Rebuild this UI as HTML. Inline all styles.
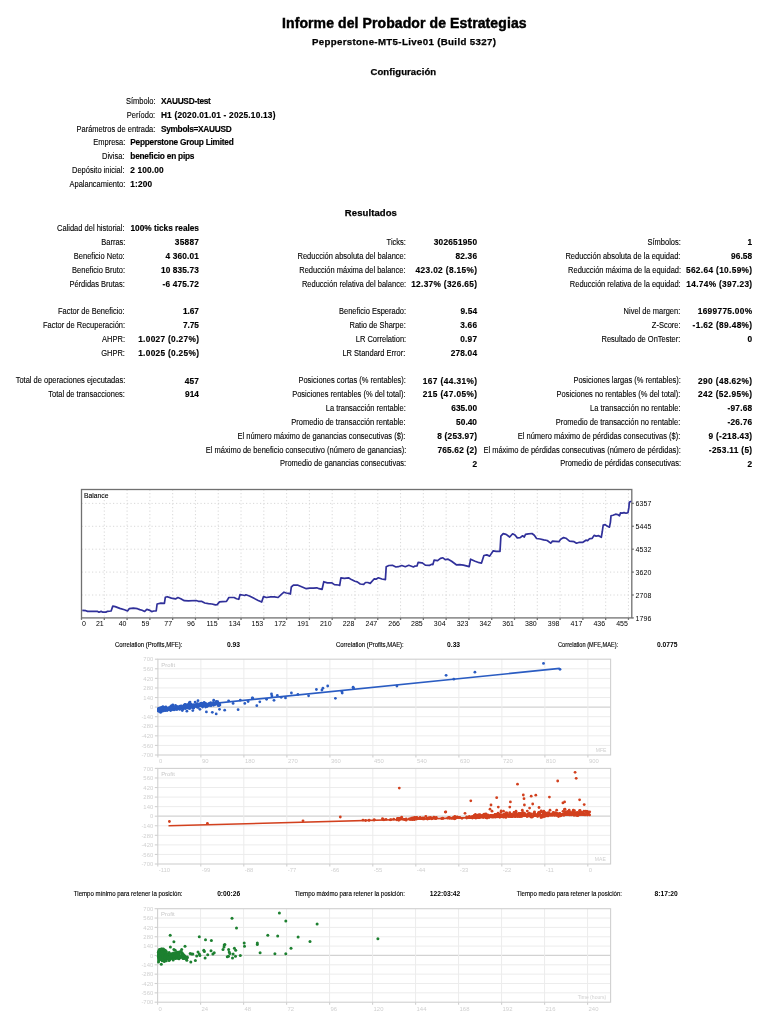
<!DOCTYPE html>
<html><head><meta charset="utf-8"><style>
html,body{margin:0;padding:0;background:#fff;width:768px;height:1024px;overflow:hidden;}
body{position:relative;will-change:transform;font-family:"Liberation Sans", sans-serif;color:#000;}
#r{position:absolute;left:0;top:0;width:768px;height:1024px;background:#fff;}
.t{position:absolute;white-space:nowrap;line-height:1;}
.l{-webkit-text-stroke:0.12px #000;}
.h1{-webkit-text-stroke:0.45px #000;}
.h2{-webkit-text-stroke:0.25px #000;}
.v{-webkit-text-stroke:0.15px #000;}
svg{position:absolute;left:0;top:0;}
</style></head><body><div id="r">
<svg width="768" height="1024" viewBox="0 0 768 1024"><style>.gd{stroke:#d4d4d4;stroke-width:0.9;stroke-dasharray:1.2 2.3;fill:none}.fr{stroke:#707070;stroke-width:1.3}</style><line x1="104.29" y1="489.5" x2="104.29" y2="617.9" class="gd"/><line x1="127.08" y1="489.5" x2="127.08" y2="617.9" class="gd"/><line x1="149.87" y1="489.5" x2="149.87" y2="617.9" class="gd"/><line x1="172.66" y1="489.5" x2="172.66" y2="617.9" class="gd"/><line x1="195.45" y1="489.5" x2="195.45" y2="617.9" class="gd"/><line x1="218.24" y1="489.5" x2="218.24" y2="617.9" class="gd"/><line x1="241.03" y1="489.5" x2="241.03" y2="617.9" class="gd"/><line x1="263.82" y1="489.5" x2="263.82" y2="617.9" class="gd"/><line x1="286.61" y1="489.5" x2="286.61" y2="617.9" class="gd"/><line x1="309.40" y1="489.5" x2="309.40" y2="617.9" class="gd"/><line x1="332.19" y1="489.5" x2="332.19" y2="617.9" class="gd"/><line x1="354.98" y1="489.5" x2="354.98" y2="617.9" class="gd"/><line x1="377.77" y1="489.5" x2="377.77" y2="617.9" class="gd"/><line x1="400.56" y1="489.5" x2="400.56" y2="617.9" class="gd"/><line x1="423.35" y1="489.5" x2="423.35" y2="617.9" class="gd"/><line x1="446.14" y1="489.5" x2="446.14" y2="617.9" class="gd"/><line x1="468.93" y1="489.5" x2="468.93" y2="617.9" class="gd"/><line x1="491.72" y1="489.5" x2="491.72" y2="617.9" class="gd"/><line x1="514.51" y1="489.5" x2="514.51" y2="617.9" class="gd"/><line x1="537.30" y1="489.5" x2="537.30" y2="617.9" class="gd"/><line x1="560.09" y1="489.5" x2="560.09" y2="617.9" class="gd"/><line x1="582.88" y1="489.5" x2="582.88" y2="617.9" class="gd"/><line x1="605.67" y1="489.5" x2="605.67" y2="617.9" class="gd"/><line x1="628.46" y1="489.5" x2="628.46" y2="617.9" class="gd"/><line x1="81.5" y1="595.00" x2="631.8" y2="595.00" class="gd"/><line x1="81.5" y1="572.10" x2="631.8" y2="572.10" class="gd"/><line x1="81.5" y1="549.20" x2="631.8" y2="549.20" class="gd"/><line x1="81.5" y1="526.30" x2="631.8" y2="526.30" class="gd"/><line x1="81.5" y1="503.40" x2="631.8" y2="503.40" class="gd"/><line x1="81.50" y1="617.9" x2="81.50" y2="619.9" class="fr"/><line x1="104.29" y1="617.9" x2="104.29" y2="619.9" class="fr"/><line x1="127.08" y1="617.9" x2="127.08" y2="619.9" class="fr"/><line x1="149.87" y1="617.9" x2="149.87" y2="619.9" class="fr"/><line x1="172.66" y1="617.9" x2="172.66" y2="619.9" class="fr"/><line x1="195.45" y1="617.9" x2="195.45" y2="619.9" class="fr"/><line x1="218.24" y1="617.9" x2="218.24" y2="619.9" class="fr"/><line x1="241.03" y1="617.9" x2="241.03" y2="619.9" class="fr"/><line x1="263.82" y1="617.9" x2="263.82" y2="619.9" class="fr"/><line x1="286.61" y1="617.9" x2="286.61" y2="619.9" class="fr"/><line x1="309.40" y1="617.9" x2="309.40" y2="619.9" class="fr"/><line x1="332.19" y1="617.9" x2="332.19" y2="619.9" class="fr"/><line x1="354.98" y1="617.9" x2="354.98" y2="619.9" class="fr"/><line x1="377.77" y1="617.9" x2="377.77" y2="619.9" class="fr"/><line x1="400.56" y1="617.9" x2="400.56" y2="619.9" class="fr"/><line x1="423.35" y1="617.9" x2="423.35" y2="619.9" class="fr"/><line x1="446.14" y1="617.9" x2="446.14" y2="619.9" class="fr"/><line x1="468.93" y1="617.9" x2="468.93" y2="619.9" class="fr"/><line x1="491.72" y1="617.9" x2="491.72" y2="619.9" class="fr"/><line x1="514.51" y1="617.9" x2="514.51" y2="619.9" class="fr"/><line x1="537.30" y1="617.9" x2="537.30" y2="619.9" class="fr"/><line x1="560.09" y1="617.9" x2="560.09" y2="619.9" class="fr"/><line x1="582.88" y1="617.9" x2="582.88" y2="619.9" class="fr"/><line x1="605.67" y1="617.9" x2="605.67" y2="619.9" class="fr"/><line x1="628.46" y1="617.9" x2="628.46" y2="619.9" class="fr"/><line x1="631.8" y1="617.90" x2="633.8" y2="617.90" class="fr"/><line x1="631.8" y1="595.00" x2="633.8" y2="595.00" class="fr"/><line x1="631.8" y1="572.10" x2="633.8" y2="572.10" class="fr"/><line x1="631.8" y1="549.20" x2="633.8" y2="549.20" class="fr"/><line x1="631.8" y1="526.30" x2="633.8" y2="526.30" class="fr"/><line x1="631.8" y1="503.40" x2="633.8" y2="503.40" class="fr"/><rect x="81.5" y="489.5" width="550.3" height="128.39999999999998" class="fr" fill="none"/><polyline points="82.3,610.4 85.9,610.7 87.6,611.4 97.6,611.4 99.0,612.2 101.1,611.4 102.9,612.2 105.8,612.2 107.5,611.3 111.1,611.0 112.8,606.1 115.2,606.6 119.8,608.4 124.5,609.8 127.5,611.0 129.2,608.7 133.3,608.1 137.4,608.7 139.8,609.6 142.1,610.2 144.7,611.4 146.8,609.3 149.1,610.1 151.7,611.6 153.8,611.0 156.2,611.0 157.1,604.0 160.9,603.2 164.4,603.4 165.3,597.3 167.3,596.7 171.4,598.1 175.5,598.9 177.9,597.5 180.8,598.7 184.3,600.7 188.4,600.8 196.1,600.5 198.4,601.3 201.9,601.4 204.8,603.0 208.4,603.6 211.9,604.0 215.4,604.9 217.2,604.6 219.5,601.9 222.4,601.6 226.5,601.4 228.9,597.5 234.1,597.5 236.5,598.7 238.8,599.3 240.0,594.6 242.3,595.0 244.7,595.5 245.9,594.8 249.4,596.0 253.5,598.1 258.2,600.4 261.7,602.0 263.5,596.6 266.4,597.5 270.5,596.9 274.6,596.9 278.1,597.5 281.1,594.6 284.0,592.2 286.3,593.0 288.7,593.4 290.4,594.0 291.3,587.0 293.4,585.2 298.0,585.2 301.6,586.7 306.3,588.7 309.8,588.1 313.3,588.1 316.8,587.8 319.1,588.7 322.1,589.3 323.8,581.7 327.3,582.9 332.0,582.9 334.4,584.6 338.5,585.0 339.7,585.4 340.9,577.8 344.4,578.4 348.5,577.8 351.4,579.6 354.9,581.3 357.3,581.9 360.2,584.0 363.7,584.3 365.5,582.5 367.8,582.5 370.2,583.4 374.3,578.8 376.0,579.2 378.4,577.8 381.9,579.0 385.4,579.6 386.2,566.7 388.9,565.5 392.4,565.3 395.9,567.0 398.3,566.7 401.8,565.5 405.3,566.7 408.8,565.3 413.5,567.0 414.7,566.1 417.0,565.9 418.2,562.3 421.7,562.8 422.3,562.9 425.3,565.2 429.4,565.4 431.7,564.3 432.9,564.6 434.1,560.2 437.6,560.7 440.5,558.4 442.9,557.8 445.2,559.6 448.1,559.2 451.6,561.3 456.3,564.8 459.8,564.6 463.4,565.1 469.2,566.6 470.6,559.2 475.1,561.3 479.2,562.7 481.5,563.1 483.9,555.5 486.8,554.9 489.7,556.1 493.2,550.8 496.2,551.4 500.0,551.4 500.9,536.1 503.2,533.6 506.1,534.4 507.3,535.2 509.7,537.0 512.6,533.8 515.0,535.0 517.3,537.9 520.2,537.6 522.6,535.8 524.3,537.0 525.5,534.3 528.4,533.8 532.0,533.5 534.3,535.2 536.6,538.5 540.2,539.0 543.7,539.9 547.2,540.5 550.7,543.2 552.5,541.1 555.4,541.3 558.9,541.7 560.7,539.3 563.6,537.6 565.9,538.2 569.5,541.1 574.1,541.7 576.5,543.2 579.4,542.3 582.9,542.3 585.9,540.2 587.6,540.6 588.9,539.3 590.2,538.6 592.2,538.3 594.1,535.4 596.1,536.1 598.7,535.7 601.3,537.3 602.3,531.5 603.2,525.0 605.2,524.6 607.1,526.1 609.4,527.2 610.4,522.3 611.0,515.8 613.0,515.2 615.6,514.2 617.6,514.5 619.5,515.8 620.5,512.9 622.1,513.1 624.1,512.6 626.0,513.2 628.0,512.6 628.9,507.4 629.3,502.2 630.6,501.5 631.2,501.8" fill="none" stroke="#30309a" stroke-width="1.7" stroke-linejoin="round"/></svg><svg width="768" height="1024" viewBox="0 0 768 1024"><style>.sg{stroke:#ececec;stroke-width:1}.sz{stroke:#d2d2d2;stroke-width:1.2}.sf{stroke:#d0d0d0;stroke-width:1.1}</style><line x1="157.9" y1="668.78" x2="610.6" y2="668.78" class="sg"/><line x1="157.9" y1="678.36" x2="610.6" y2="678.36" class="sg"/><line x1="157.9" y1="687.94" x2="610.6" y2="687.94" class="sg"/><line x1="157.9" y1="697.52" x2="610.6" y2="697.52" class="sg"/><line x1="157.9" y1="707.10" x2="610.6" y2="707.10" class="sz"/><line x1="157.9" y1="716.68" x2="610.6" y2="716.68" class="sg"/><line x1="157.9" y1="726.26" x2="610.6" y2="726.26" class="sg"/><line x1="157.9" y1="735.84" x2="610.6" y2="735.84" class="sg"/><line x1="157.9" y1="745.42" x2="610.6" y2="745.42" class="sg"/><line x1="200.90" y1="659.2" x2="200.90" y2="755.0" class="sg"/><line x1="243.90" y1="659.2" x2="243.90" y2="755.0" class="sg"/><line x1="286.90" y1="659.2" x2="286.90" y2="755.0" class="sg"/><line x1="329.90" y1="659.2" x2="329.90" y2="755.0" class="sg"/><line x1="372.90" y1="659.2" x2="372.90" y2="755.0" class="sg"/><line x1="415.90" y1="659.2" x2="415.90" y2="755.0" class="sg"/><line x1="458.90" y1="659.2" x2="458.90" y2="755.0" class="sg"/><line x1="501.90" y1="659.2" x2="501.90" y2="755.0" class="sg"/><line x1="544.90" y1="659.2" x2="544.90" y2="755.0" class="sg"/><line x1="587.90" y1="659.2" x2="587.90" y2="755.0" class="sg"/><line x1="154.9" y1="659.20" x2="157.9" y2="659.20" class="sf"/><line x1="154.9" y1="668.78" x2="157.9" y2="668.78" class="sf"/><line x1="154.9" y1="678.36" x2="157.9" y2="678.36" class="sf"/><line x1="154.9" y1="687.94" x2="157.9" y2="687.94" class="sf"/><line x1="154.9" y1="697.52" x2="157.9" y2="697.52" class="sf"/><line x1="154.9" y1="707.10" x2="157.9" y2="707.10" class="sf"/><line x1="154.9" y1="716.68" x2="157.9" y2="716.68" class="sf"/><line x1="154.9" y1="726.26" x2="157.9" y2="726.26" class="sf"/><line x1="154.9" y1="735.84" x2="157.9" y2="735.84" class="sf"/><line x1="154.9" y1="745.42" x2="157.9" y2="745.42" class="sf"/><line x1="154.9" y1="755.00" x2="157.9" y2="755.00" class="sf"/><line x1="157.90" y1="755.0" x2="157.90" y2="757.5" class="sf"/><line x1="200.90" y1="755.0" x2="200.90" y2="757.5" class="sf"/><line x1="243.90" y1="755.0" x2="243.90" y2="757.5" class="sf"/><line x1="286.90" y1="755.0" x2="286.90" y2="757.5" class="sf"/><line x1="329.90" y1="755.0" x2="329.90" y2="757.5" class="sf"/><line x1="372.90" y1="755.0" x2="372.90" y2="757.5" class="sf"/><line x1="415.90" y1="755.0" x2="415.90" y2="757.5" class="sf"/><line x1="458.90" y1="755.0" x2="458.90" y2="757.5" class="sf"/><line x1="501.90" y1="755.0" x2="501.90" y2="757.5" class="sf"/><line x1="544.90" y1="755.0" x2="544.90" y2="757.5" class="sf"/><line x1="587.90" y1="755.0" x2="587.90" y2="757.5" class="sf"/><rect x="157.9" y="659.2" width="452.70" height="95.80" class="sf" fill="none"/><line x1="157.8" y1="777.96" x2="610.6" y2="777.96" class="sg"/><line x1="157.8" y1="787.52" x2="610.6" y2="787.52" class="sg"/><line x1="157.8" y1="797.08" x2="610.6" y2="797.08" class="sg"/><line x1="157.8" y1="806.64" x2="610.6" y2="806.64" class="sg"/><line x1="157.8" y1="816.20" x2="610.6" y2="816.20" class="sz"/><line x1="157.8" y1="825.76" x2="610.6" y2="825.76" class="sg"/><line x1="157.8" y1="835.32" x2="610.6" y2="835.32" class="sg"/><line x1="157.8" y1="844.88" x2="610.6" y2="844.88" class="sg"/><line x1="157.8" y1="854.44" x2="610.6" y2="854.44" class="sg"/><line x1="200.80" y1="768.4" x2="200.80" y2="864.0" class="sg"/><line x1="243.80" y1="768.4" x2="243.80" y2="864.0" class="sg"/><line x1="286.80" y1="768.4" x2="286.80" y2="864.0" class="sg"/><line x1="329.80" y1="768.4" x2="329.80" y2="864.0" class="sg"/><line x1="372.80" y1="768.4" x2="372.80" y2="864.0" class="sg"/><line x1="415.80" y1="768.4" x2="415.80" y2="864.0" class="sg"/><line x1="458.80" y1="768.4" x2="458.80" y2="864.0" class="sg"/><line x1="501.80" y1="768.4" x2="501.80" y2="864.0" class="sg"/><line x1="544.80" y1="768.4" x2="544.80" y2="864.0" class="sg"/><line x1="587.80" y1="768.4" x2="587.80" y2="864.0" class="sg"/><line x1="154.8" y1="768.40" x2="157.8" y2="768.40" class="sf"/><line x1="154.8" y1="777.96" x2="157.8" y2="777.96" class="sf"/><line x1="154.8" y1="787.52" x2="157.8" y2="787.52" class="sf"/><line x1="154.8" y1="797.08" x2="157.8" y2="797.08" class="sf"/><line x1="154.8" y1="806.64" x2="157.8" y2="806.64" class="sf"/><line x1="154.8" y1="816.20" x2="157.8" y2="816.20" class="sf"/><line x1="154.8" y1="825.76" x2="157.8" y2="825.76" class="sf"/><line x1="154.8" y1="835.32" x2="157.8" y2="835.32" class="sf"/><line x1="154.8" y1="844.88" x2="157.8" y2="844.88" class="sf"/><line x1="154.8" y1="854.44" x2="157.8" y2="854.44" class="sf"/><line x1="154.8" y1="864.00" x2="157.8" y2="864.00" class="sf"/><line x1="157.80" y1="864.0" x2="157.80" y2="866.5" class="sf"/><line x1="200.80" y1="864.0" x2="200.80" y2="866.5" class="sf"/><line x1="243.80" y1="864.0" x2="243.80" y2="866.5" class="sf"/><line x1="286.80" y1="864.0" x2="286.80" y2="866.5" class="sf"/><line x1="329.80" y1="864.0" x2="329.80" y2="866.5" class="sf"/><line x1="372.80" y1="864.0" x2="372.80" y2="866.5" class="sf"/><line x1="415.80" y1="864.0" x2="415.80" y2="866.5" class="sf"/><line x1="458.80" y1="864.0" x2="458.80" y2="866.5" class="sf"/><line x1="501.80" y1="864.0" x2="501.80" y2="866.5" class="sf"/><line x1="544.80" y1="864.0" x2="544.80" y2="866.5" class="sf"/><line x1="587.80" y1="864.0" x2="587.80" y2="866.5" class="sf"/><rect x="157.8" y="768.4" width="452.80" height="95.60" class="sf" fill="none"/><line x1="157.6" y1="918.05" x2="610.6" y2="918.05" class="sg"/><line x1="157.6" y1="927.40" x2="610.6" y2="927.40" class="sg"/><line x1="157.6" y1="936.75" x2="610.6" y2="936.75" class="sg"/><line x1="157.6" y1="946.10" x2="610.6" y2="946.10" class="sg"/><line x1="157.6" y1="955.45" x2="610.6" y2="955.45" class="sz"/><line x1="157.6" y1="964.80" x2="610.6" y2="964.80" class="sg"/><line x1="157.6" y1="974.15" x2="610.6" y2="974.15" class="sg"/><line x1="157.6" y1="983.50" x2="610.6" y2="983.50" class="sg"/><line x1="157.6" y1="992.85" x2="610.6" y2="992.85" class="sg"/><line x1="200.60" y1="908.7" x2="200.60" y2="1002.2" class="sg"/><line x1="243.60" y1="908.7" x2="243.60" y2="1002.2" class="sg"/><line x1="286.60" y1="908.7" x2="286.60" y2="1002.2" class="sg"/><line x1="329.60" y1="908.7" x2="329.60" y2="1002.2" class="sg"/><line x1="372.60" y1="908.7" x2="372.60" y2="1002.2" class="sg"/><line x1="415.60" y1="908.7" x2="415.60" y2="1002.2" class="sg"/><line x1="458.60" y1="908.7" x2="458.60" y2="1002.2" class="sg"/><line x1="501.60" y1="908.7" x2="501.60" y2="1002.2" class="sg"/><line x1="544.60" y1="908.7" x2="544.60" y2="1002.2" class="sg"/><line x1="587.60" y1="908.7" x2="587.60" y2="1002.2" class="sg"/><line x1="154.6" y1="908.70" x2="157.6" y2="908.70" class="sf"/><line x1="154.6" y1="918.05" x2="157.6" y2="918.05" class="sf"/><line x1="154.6" y1="927.40" x2="157.6" y2="927.40" class="sf"/><line x1="154.6" y1="936.75" x2="157.6" y2="936.75" class="sf"/><line x1="154.6" y1="946.10" x2="157.6" y2="946.10" class="sf"/><line x1="154.6" y1="955.45" x2="157.6" y2="955.45" class="sf"/><line x1="154.6" y1="964.80" x2="157.6" y2="964.80" class="sf"/><line x1="154.6" y1="974.15" x2="157.6" y2="974.15" class="sf"/><line x1="154.6" y1="983.50" x2="157.6" y2="983.50" class="sf"/><line x1="154.6" y1="992.85" x2="157.6" y2="992.85" class="sf"/><line x1="154.6" y1="1002.20" x2="157.6" y2="1002.20" class="sf"/><line x1="157.60" y1="1002.2" x2="157.60" y2="1004.7" class="sf"/><line x1="200.60" y1="1002.2" x2="200.60" y2="1004.7" class="sf"/><line x1="243.60" y1="1002.2" x2="243.60" y2="1004.7" class="sf"/><line x1="286.60" y1="1002.2" x2="286.60" y2="1004.7" class="sf"/><line x1="329.60" y1="1002.2" x2="329.60" y2="1004.7" class="sf"/><line x1="372.60" y1="1002.2" x2="372.60" y2="1004.7" class="sf"/><line x1="415.60" y1="1002.2" x2="415.60" y2="1004.7" class="sf"/><line x1="458.60" y1="1002.2" x2="458.60" y2="1004.7" class="sf"/><line x1="501.60" y1="1002.2" x2="501.60" y2="1004.7" class="sf"/><line x1="544.60" y1="1002.2" x2="544.60" y2="1004.7" class="sf"/><line x1="587.60" y1="1002.2" x2="587.60" y2="1004.7" class="sf"/><rect x="157.6" y="908.7" width="453.00" height="93.50" class="sf" fill="none"/><circle cx="168.8" cy="709.5" r="1.4" fill="#2a5cc2"/><circle cx="159.5" cy="710.8" r="1.4" fill="#2a5cc2"/><circle cx="181.5" cy="707.1" r="1.4" fill="#2a5cc2"/><circle cx="179.5" cy="707.8" r="1.4" fill="#2a5cc2"/><circle cx="158.9" cy="709.2" r="1.4" fill="#2a5cc2"/><circle cx="159.9" cy="709.6" r="1.4" fill="#2a5cc2"/><circle cx="174.3" cy="708.3" r="1.4" fill="#2a5cc2"/><circle cx="164.2" cy="708.5" r="1.4" fill="#2a5cc2"/><circle cx="188.0" cy="708.0" r="1.4" fill="#2a5cc2"/><circle cx="172.7" cy="707.7" r="1.4" fill="#2a5cc2"/><circle cx="218.3" cy="705.7" r="1.4" fill="#2a5cc2"/><circle cx="167.1" cy="709.4" r="1.4" fill="#2a5cc2"/><circle cx="161.4" cy="710.0" r="1.4" fill="#2a5cc2"/><circle cx="203.4" cy="705.7" r="1.4" fill="#2a5cc2"/><circle cx="162.6" cy="707.8" r="1.4" fill="#2a5cc2"/><circle cx="171.4" cy="707.5" r="1.4" fill="#2a5cc2"/><circle cx="182.3" cy="707.6" r="1.4" fill="#2a5cc2"/><circle cx="163.5" cy="709.2" r="1.4" fill="#2a5cc2"/><circle cx="192.1" cy="705.4" r="1.4" fill="#2a5cc2"/><circle cx="184.9" cy="707.4" r="1.4" fill="#2a5cc2"/><circle cx="176.1" cy="707.2" r="1.4" fill="#2a5cc2"/><circle cx="193.6" cy="708.0" r="1.4" fill="#2a5cc2"/><circle cx="165.1" cy="707.7" r="1.4" fill="#2a5cc2"/><circle cx="208.7" cy="704.0" r="1.4" fill="#2a5cc2"/><circle cx="196.0" cy="705.1" r="1.4" fill="#2a5cc2"/><circle cx="160.6" cy="712.4" r="1.4" fill="#2a5cc2"/><circle cx="174.0" cy="708.1" r="1.4" fill="#2a5cc2"/><circle cx="178.3" cy="707.0" r="1.4" fill="#2a5cc2"/><circle cx="158.9" cy="708.6" r="1.4" fill="#2a5cc2"/><circle cx="184.0" cy="705.4" r="1.4" fill="#2a5cc2"/><circle cx="208.7" cy="703.9" r="1.4" fill="#2a5cc2"/><circle cx="185.6" cy="708.5" r="1.4" fill="#2a5cc2"/><circle cx="184.5" cy="705.0" r="1.4" fill="#2a5cc2"/><circle cx="215.2" cy="704.5" r="1.4" fill="#2a5cc2"/><circle cx="177.4" cy="707.5" r="1.4" fill="#2a5cc2"/><circle cx="193.8" cy="705.7" r="1.4" fill="#2a5cc2"/><circle cx="189.5" cy="708.5" r="1.4" fill="#2a5cc2"/><circle cx="166.9" cy="708.7" r="1.4" fill="#2a5cc2"/><circle cx="172.1" cy="708.1" r="1.4" fill="#2a5cc2"/><circle cx="176.6" cy="707.6" r="1.4" fill="#2a5cc2"/><circle cx="162.2" cy="709.5" r="1.4" fill="#2a5cc2"/><circle cx="199.3" cy="705.8" r="1.4" fill="#2a5cc2"/><circle cx="161.0" cy="709.4" r="1.4" fill="#2a5cc2"/><circle cx="208.3" cy="705.7" r="1.4" fill="#2a5cc2"/><circle cx="159.7" cy="708.2" r="1.4" fill="#2a5cc2"/><circle cx="209.4" cy="704.9" r="1.4" fill="#2a5cc2"/><circle cx="203.7" cy="705.7" r="1.4" fill="#2a5cc2"/><circle cx="173.8" cy="707.4" r="1.4" fill="#2a5cc2"/><circle cx="170.6" cy="710.5" r="1.4" fill="#2a5cc2"/><circle cx="161.6" cy="707.4" r="1.4" fill="#2a5cc2"/><circle cx="162.5" cy="709.3" r="1.4" fill="#2a5cc2"/><circle cx="178.1" cy="708.4" r="1.4" fill="#2a5cc2"/><circle cx="185.2" cy="706.9" r="1.4" fill="#2a5cc2"/><circle cx="174.0" cy="708.1" r="1.4" fill="#2a5cc2"/><circle cx="171.2" cy="705.8" r="1.4" fill="#2a5cc2"/><circle cx="192.9" cy="705.1" r="1.4" fill="#2a5cc2"/><circle cx="180.1" cy="706.2" r="1.4" fill="#2a5cc2"/><circle cx="159.2" cy="708.4" r="1.4" fill="#2a5cc2"/><circle cx="210.9" cy="704.8" r="1.4" fill="#2a5cc2"/><circle cx="201.8" cy="703.1" r="1.4" fill="#2a5cc2"/><circle cx="172.5" cy="707.8" r="1.4" fill="#2a5cc2"/><circle cx="188.5" cy="706.9" r="1.4" fill="#2a5cc2"/><circle cx="159.3" cy="710.2" r="1.4" fill="#2a5cc2"/><circle cx="162.0" cy="709.6" r="1.4" fill="#2a5cc2"/><circle cx="169.6" cy="708.5" r="1.4" fill="#2a5cc2"/><circle cx="161.6" cy="709.3" r="1.4" fill="#2a5cc2"/><circle cx="160.2" cy="709.3" r="1.4" fill="#2a5cc2"/><circle cx="208.6" cy="704.8" r="1.4" fill="#2a5cc2"/><circle cx="187.0" cy="707.2" r="1.4" fill="#2a5cc2"/><circle cx="170.0" cy="709.1" r="1.4" fill="#2a5cc2"/><circle cx="170.9" cy="709.9" r="1.4" fill="#2a5cc2"/><circle cx="219.9" cy="704.9" r="1.4" fill="#2a5cc2"/><circle cx="176.9" cy="707.3" r="1.4" fill="#2a5cc2"/><circle cx="160.2" cy="709.5" r="1.4" fill="#2a5cc2"/><circle cx="169.8" cy="708.3" r="1.4" fill="#2a5cc2"/><circle cx="162.0" cy="711.3" r="1.4" fill="#2a5cc2"/><circle cx="158.7" cy="710.9" r="1.4" fill="#2a5cc2"/><circle cx="161.5" cy="708.9" r="1.4" fill="#2a5cc2"/><circle cx="182.0" cy="708.6" r="1.4" fill="#2a5cc2"/><circle cx="218.5" cy="703.8" r="1.4" fill="#2a5cc2"/><circle cx="207.6" cy="704.4" r="1.4" fill="#2a5cc2"/><circle cx="171.1" cy="707.5" r="1.4" fill="#2a5cc2"/><circle cx="162.1" cy="709.4" r="1.4" fill="#2a5cc2"/><circle cx="200.2" cy="704.1" r="1.4" fill="#2a5cc2"/><circle cx="169.1" cy="708.9" r="1.4" fill="#2a5cc2"/><circle cx="219.1" cy="705.5" r="1.4" fill="#2a5cc2"/><circle cx="206.6" cy="705.5" r="1.4" fill="#2a5cc2"/><circle cx="196.9" cy="703.9" r="1.4" fill="#2a5cc2"/><circle cx="164.4" cy="708.0" r="1.4" fill="#2a5cc2"/><circle cx="158.8" cy="709.5" r="1.4" fill="#2a5cc2"/><circle cx="158.8" cy="709.4" r="1.4" fill="#2a5cc2"/><circle cx="193.0" cy="707.0" r="1.4" fill="#2a5cc2"/><circle cx="216.3" cy="701.4" r="1.4" fill="#2a5cc2"/><circle cx="219.4" cy="704.4" r="1.4" fill="#2a5cc2"/><circle cx="216.2" cy="703.3" r="1.4" fill="#2a5cc2"/><circle cx="164.4" cy="709.6" r="1.4" fill="#2a5cc2"/><circle cx="163.2" cy="709.6" r="1.4" fill="#2a5cc2"/><circle cx="211.0" cy="705.8" r="1.4" fill="#2a5cc2"/><circle cx="205.5" cy="703.3" r="1.4" fill="#2a5cc2"/><circle cx="202.0" cy="705.5" r="1.4" fill="#2a5cc2"/><circle cx="159.8" cy="708.2" r="1.4" fill="#2a5cc2"/><circle cx="200.5" cy="703.4" r="1.4" fill="#2a5cc2"/><circle cx="197.7" cy="705.0" r="1.4" fill="#2a5cc2"/><circle cx="201.0" cy="705.4" r="1.4" fill="#2a5cc2"/><circle cx="169.2" cy="709.4" r="1.4" fill="#2a5cc2"/><circle cx="172.7" cy="705.4" r="1.4" fill="#2a5cc2"/><circle cx="173.0" cy="709.8" r="1.4" fill="#2a5cc2"/><circle cx="162.2" cy="708.6" r="1.4" fill="#2a5cc2"/><circle cx="160.9" cy="710.8" r="1.4" fill="#2a5cc2"/><circle cx="202.6" cy="707.1" r="1.4" fill="#2a5cc2"/><circle cx="161.5" cy="710.7" r="1.4" fill="#2a5cc2"/><circle cx="190.3" cy="703.7" r="1.4" fill="#2a5cc2"/><circle cx="170.2" cy="707.9" r="1.4" fill="#2a5cc2"/><circle cx="158.7" cy="709.4" r="1.4" fill="#2a5cc2"/><circle cx="217.7" cy="702.9" r="1.4" fill="#2a5cc2"/><circle cx="214.1" cy="702.9" r="1.4" fill="#2a5cc2"/><circle cx="174.9" cy="709.4" r="1.4" fill="#2a5cc2"/><circle cx="163.7" cy="707.6" r="1.4" fill="#2a5cc2"/><circle cx="165.4" cy="708.7" r="1.4" fill="#2a5cc2"/><circle cx="185.0" cy="707.7" r="1.4" fill="#2a5cc2"/><circle cx="165.8" cy="708.4" r="1.4" fill="#2a5cc2"/><circle cx="211.9" cy="704.5" r="1.4" fill="#2a5cc2"/><circle cx="170.4" cy="707.0" r="1.4" fill="#2a5cc2"/><circle cx="211.4" cy="704.7" r="1.4" fill="#2a5cc2"/><circle cx="174.1" cy="709.2" r="1.4" fill="#2a5cc2"/><circle cx="181.2" cy="706.7" r="1.4" fill="#2a5cc2"/><circle cx="180.6" cy="708.6" r="1.4" fill="#2a5cc2"/><circle cx="162.7" cy="709.3" r="1.4" fill="#2a5cc2"/><circle cx="158.6" cy="709.8" r="1.4" fill="#2a5cc2"/><circle cx="177.3" cy="707.1" r="1.4" fill="#2a5cc2"/><circle cx="195.7" cy="705.0" r="1.4" fill="#2a5cc2"/><circle cx="180.3" cy="707.1" r="1.4" fill="#2a5cc2"/><circle cx="182.8" cy="707.3" r="1.4" fill="#2a5cc2"/><circle cx="183.1" cy="706.6" r="1.4" fill="#2a5cc2"/><circle cx="165.3" cy="708.6" r="1.4" fill="#2a5cc2"/><circle cx="179.6" cy="709.4" r="1.4" fill="#2a5cc2"/><circle cx="183.2" cy="707.3" r="1.4" fill="#2a5cc2"/><circle cx="175.5" cy="705.5" r="1.4" fill="#2a5cc2"/><circle cx="186.9" cy="705.4" r="1.4" fill="#2a5cc2"/><circle cx="193.1" cy="706.1" r="1.4" fill="#2a5cc2"/><circle cx="176.0" cy="706.6" r="1.4" fill="#2a5cc2"/><circle cx="214.9" cy="703.7" r="1.4" fill="#2a5cc2"/><circle cx="193.6" cy="708.0" r="1.4" fill="#2a5cc2"/><circle cx="165.8" cy="707.0" r="1.4" fill="#2a5cc2"/><circle cx="183.1" cy="709.1" r="1.4" fill="#2a5cc2"/><circle cx="161.2" cy="708.6" r="1.4" fill="#2a5cc2"/><circle cx="160.7" cy="709.0" r="1.4" fill="#2a5cc2"/><circle cx="164.9" cy="709.1" r="1.4" fill="#2a5cc2"/><circle cx="159.5" cy="708.6" r="1.4" fill="#2a5cc2"/><circle cx="210.7" cy="702.7" r="1.4" fill="#2a5cc2"/><circle cx="161.7" cy="708.9" r="1.4" fill="#2a5cc2"/><circle cx="161.4" cy="707.7" r="1.4" fill="#2a5cc2"/><circle cx="209.4" cy="705.3" r="1.4" fill="#2a5cc2"/><circle cx="216.0" cy="703.7" r="1.4" fill="#2a5cc2"/><circle cx="172.8" cy="704.8" r="1.4" fill="#2a5cc2"/><circle cx="204.8" cy="705.2" r="1.4" fill="#2a5cc2"/><circle cx="162.0" cy="708.1" r="1.4" fill="#2a5cc2"/><circle cx="169.6" cy="709.0" r="1.4" fill="#2a5cc2"/><circle cx="163.2" cy="708.4" r="1.4" fill="#2a5cc2"/><circle cx="158.7" cy="711.2" r="1.4" fill="#2a5cc2"/><circle cx="182.7" cy="707.0" r="1.4" fill="#2a5cc2"/><circle cx="169.2" cy="708.6" r="1.4" fill="#2a5cc2"/><circle cx="187.7" cy="706.3" r="1.4" fill="#2a5cc2"/><circle cx="219.1" cy="703.5" r="1.4" fill="#2a5cc2"/><circle cx="201.0" cy="705.9" r="1.4" fill="#2a5cc2"/><circle cx="166.0" cy="708.8" r="1.4" fill="#2a5cc2"/><circle cx="159.0" cy="709.7" r="1.4" fill="#2a5cc2"/><circle cx="161.0" cy="708.5" r="1.4" fill="#2a5cc2"/><circle cx="174.2" cy="709.8" r="1.4" fill="#2a5cc2"/><circle cx="165.7" cy="707.8" r="1.4" fill="#2a5cc2"/><circle cx="161.6" cy="710.5" r="1.4" fill="#2a5cc2"/><circle cx="193.7" cy="705.4" r="1.4" fill="#2a5cc2"/><circle cx="159.9" cy="711.0" r="1.4" fill="#2a5cc2"/><circle cx="174.4" cy="708.6" r="1.4" fill="#2a5cc2"/><circle cx="159.5" cy="710.9" r="1.4" fill="#2a5cc2"/><circle cx="202.1" cy="704.6" r="1.4" fill="#2a5cc2"/><circle cx="159.8" cy="709.7" r="1.4" fill="#2a5cc2"/><circle cx="207.6" cy="704.4" r="1.4" fill="#2a5cc2"/><circle cx="176.1" cy="707.1" r="1.4" fill="#2a5cc2"/><circle cx="213.5" cy="705.3" r="1.4" fill="#2a5cc2"/><circle cx="166.1" cy="709.8" r="1.4" fill="#2a5cc2"/><circle cx="164.9" cy="709.9" r="1.4" fill="#2a5cc2"/><circle cx="160.4" cy="709.6" r="1.4" fill="#2a5cc2"/><circle cx="163.4" cy="709.4" r="1.4" fill="#2a5cc2"/><circle cx="168.2" cy="708.0" r="1.4" fill="#2a5cc2"/><circle cx="167.2" cy="710.5" r="1.4" fill="#2a5cc2"/><circle cx="179.1" cy="708.0" r="1.4" fill="#2a5cc2"/><circle cx="158.7" cy="710.5" r="1.4" fill="#2a5cc2"/><circle cx="165.4" cy="710.7" r="1.4" fill="#2a5cc2"/><circle cx="182.5" cy="707.4" r="1.4" fill="#2a5cc2"/><circle cx="162.9" cy="706.6" r="1.4" fill="#2a5cc2"/><circle cx="160.3" cy="709.8" r="1.4" fill="#2a5cc2"/><circle cx="203.6" cy="703.9" r="1.4" fill="#2a5cc2"/><circle cx="205.0" cy="705.5" r="1.4" fill="#2a5cc2"/><circle cx="172.5" cy="706.5" r="1.4" fill="#2a5cc2"/><circle cx="218.9" cy="703.5" r="1.4" fill="#2a5cc2"/><circle cx="169.8" cy="709.3" r="1.4" fill="#2a5cc2"/><circle cx="188.7" cy="705.1" r="1.4" fill="#2a5cc2"/><circle cx="173.2" cy="707.9" r="1.4" fill="#2a5cc2"/><circle cx="161.0" cy="709.7" r="1.4" fill="#2a5cc2"/><circle cx="159.5" cy="709.5" r="1.4" fill="#2a5cc2"/><circle cx="162.0" cy="708.4" r="1.4" fill="#2a5cc2"/><circle cx="159.8" cy="710.7" r="1.4" fill="#2a5cc2"/><circle cx="191.3" cy="704.5" r="1.4" fill="#2a5cc2"/><circle cx="166.8" cy="708.8" r="1.4" fill="#2a5cc2"/><circle cx="176.5" cy="708.7" r="1.4" fill="#2a5cc2"/><circle cx="161.8" cy="708.5" r="1.4" fill="#2a5cc2"/><circle cx="216.9" cy="704.1" r="1.4" fill="#2a5cc2"/><circle cx="217.9" cy="702.9" r="1.4" fill="#2a5cc2"/><circle cx="217.2" cy="703.5" r="1.4" fill="#2a5cc2"/><circle cx="168.1" cy="708.6" r="1.4" fill="#2a5cc2"/><circle cx="171.9" cy="708.3" r="1.4" fill="#2a5cc2"/><circle cx="177.4" cy="707.0" r="1.4" fill="#2a5cc2"/><circle cx="179.4" cy="707.5" r="1.4" fill="#2a5cc2"/><circle cx="158.6" cy="709.5" r="1.4" fill="#2a5cc2"/><circle cx="172.9" cy="708.6" r="1.4" fill="#2a5cc2"/><circle cx="159.0" cy="710.5" r="1.4" fill="#2a5cc2"/><circle cx="164.6" cy="709.1" r="1.4" fill="#2a5cc2"/><circle cx="184.9" cy="705.2" r="1.4" fill="#2a5cc2"/><circle cx="190.3" cy="706.1" r="1.4" fill="#2a5cc2"/><circle cx="194.9" cy="706.7" r="1.4" fill="#2a5cc2"/><circle cx="168.9" cy="707.8" r="1.4" fill="#2a5cc2"/><circle cx="219.1" cy="704.6" r="1.4" fill="#2a5cc2"/><circle cx="189.2" cy="708.0" r="1.4" fill="#2a5cc2"/><circle cx="159.0" cy="710.7" r="1.4" fill="#2a5cc2"/><circle cx="188.0" cy="704.7" r="1.4" fill="#2a5cc2"/><circle cx="196.4" cy="706.0" r="1.4" fill="#2a5cc2"/><circle cx="180.6" cy="706.8" r="1.4" fill="#2a5cc2"/><circle cx="179.3" cy="708.5" r="1.4" fill="#2a5cc2"/><circle cx="204.3" cy="703.3" r="1.4" fill="#2a5cc2"/><circle cx="184.8" cy="708.3" r="1.4" fill="#2a5cc2"/><circle cx="193.1" cy="705.1" r="1.4" fill="#2a5cc2"/><circle cx="164.5" cy="709.6" r="1.4" fill="#2a5cc2"/><circle cx="170.7" cy="708.5" r="1.4" fill="#2a5cc2"/><circle cx="160.3" cy="710.1" r="1.4" fill="#2a5cc2"/><circle cx="188.0" cy="705.4" r="1.4" fill="#2a5cc2"/><circle cx="187.9" cy="706.1" r="1.4" fill="#2a5cc2"/><circle cx="158.6" cy="708.4" r="1.4" fill="#2a5cc2"/><circle cx="201.8" cy="705.3" r="1.4" fill="#2a5cc2"/><circle cx="181.4" cy="706.0" r="1.4" fill="#2a5cc2"/><circle cx="190.4" cy="708.1" r="1.4" fill="#2a5cc2"/><circle cx="165.4" cy="709.6" r="1.4" fill="#2a5cc2"/><circle cx="159.6" cy="709.3" r="1.4" fill="#2a5cc2"/><circle cx="163.5" cy="710.9" r="1.4" fill="#2a5cc2"/><circle cx="196.9" cy="707.0" r="1.4" fill="#2a5cc2"/><circle cx="171.9" cy="708.1" r="1.4" fill="#2a5cc2"/><circle cx="177.7" cy="706.9" r="1.4" fill="#2a5cc2"/><circle cx="187.2" cy="705.0" r="1.4" fill="#2a5cc2"/><circle cx="189.2" cy="707.1" r="1.4" fill="#2a5cc2"/><circle cx="165.5" cy="709.2" r="1.4" fill="#2a5cc2"/><circle cx="197.2" cy="705.3" r="1.4" fill="#2a5cc2"/><circle cx="158.7" cy="710.9" r="1.4" fill="#2a5cc2"/><circle cx="159.3" cy="709.3" r="1.4" fill="#2a5cc2"/><circle cx="193.0" cy="707.8" r="1.4" fill="#2a5cc2"/><circle cx="191.7" cy="705.9" r="1.4" fill="#2a5cc2"/><circle cx="176.8" cy="709.1" r="1.4" fill="#2a5cc2"/><circle cx="176.9" cy="709.5" r="1.4" fill="#2a5cc2"/><circle cx="163.3" cy="710.7" r="1.4" fill="#2a5cc2"/><circle cx="218.4" cy="703.8" r="1.4" fill="#2a5cc2"/><circle cx="176.4" cy="707.7" r="1.4" fill="#2a5cc2"/><circle cx="213.7" cy="704.6" r="1.4" fill="#2a5cc2"/><circle cx="194.4" cy="704.8" r="1.4" fill="#2a5cc2"/><circle cx="192.3" cy="706.2" r="1.4" fill="#2a5cc2"/><circle cx="205.4" cy="703.6" r="1.4" fill="#2a5cc2"/><circle cx="190.0" cy="702.1" r="1.4" fill="#2a5cc2"/><circle cx="189.6" cy="705.0" r="1.4" fill="#2a5cc2"/><circle cx="213.7" cy="700.2" r="1.4" fill="#2a5cc2"/><circle cx="209.6" cy="703.4" r="1.4" fill="#2a5cc2"/><circle cx="193.1" cy="706.5" r="1.4" fill="#2a5cc2"/><circle cx="185.9" cy="704.9" r="1.4" fill="#2a5cc2"/><circle cx="185.1" cy="704.5" r="1.4" fill="#2a5cc2"/><circle cx="195.6" cy="705.0" r="1.4" fill="#2a5cc2"/><circle cx="189.9" cy="704.8" r="1.4" fill="#2a5cc2"/><circle cx="214.4" cy="704.1" r="1.4" fill="#2a5cc2"/><circle cx="185.1" cy="706.0" r="1.4" fill="#2a5cc2"/><circle cx="189.2" cy="702.9" r="1.4" fill="#2a5cc2"/><circle cx="217.4" cy="702.1" r="1.4" fill="#2a5cc2"/><circle cx="195.1" cy="702.1" r="1.4" fill="#2a5cc2"/><circle cx="198.0" cy="700.7" r="1.4" fill="#2a5cc2"/><circle cx="205.6" cy="707.1" r="1.4" fill="#2a5cc2"/><circle cx="197.6" cy="703.7" r="1.4" fill="#2a5cc2"/><circle cx="186.7" cy="706.3" r="1.4" fill="#2a5cc2"/><circle cx="188.6" cy="706.2" r="1.4" fill="#2a5cc2"/><circle cx="217.7" cy="701.7" r="1.4" fill="#2a5cc2"/><circle cx="193.7" cy="705.0" r="1.4" fill="#2a5cc2"/><circle cx="191.6" cy="707.0" r="1.4" fill="#2a5cc2"/><circle cx="198.1" cy="707.5" r="1.4" fill="#2a5cc2"/><circle cx="213.4" cy="702.4" r="1.4" fill="#2a5cc2"/><circle cx="207.1" cy="706.6" r="1.4" fill="#2a5cc2"/><circle cx="204.2" cy="702.4" r="1.4" fill="#2a5cc2"/><circle cx="206.4" cy="711.9" r="1.4" fill="#2a5cc2"/><circle cx="212.3" cy="712.3" r="1.4" fill="#2a5cc2"/><circle cx="216.2" cy="713.9" r="1.4" fill="#2a5cc2"/><circle cx="219.5" cy="709.3" r="1.4" fill="#2a5cc2"/><circle cx="224.7" cy="710.2" r="1.4" fill="#2a5cc2"/><circle cx="238.1" cy="709.7" r="1.4" fill="#2a5cc2"/><circle cx="182.3" cy="710.6" r="1.4" fill="#2a5cc2"/><circle cx="186.9" cy="711.2" r="1.4" fill="#2a5cc2"/><circle cx="192.8" cy="710.6" r="1.4" fill="#2a5cc2"/><circle cx="199.9" cy="709.3" r="1.4" fill="#2a5cc2"/><circle cx="228.6" cy="700.8" r="1.4" fill="#2a5cc2"/><circle cx="233.1" cy="703.4" r="1.4" fill="#2a5cc2"/><circle cx="240.3" cy="700.2" r="1.4" fill="#2a5cc2"/><circle cx="244.8" cy="703.4" r="1.4" fill="#2a5cc2"/><circle cx="248.1" cy="701.5" r="1.4" fill="#2a5cc2"/><circle cx="252.7" cy="698.2" r="1.4" fill="#2a5cc2"/><circle cx="252.3" cy="697.9" r="1.4" fill="#2a5cc2"/><circle cx="256.8" cy="705.7" r="1.4" fill="#2a5cc2"/><circle cx="259.8" cy="701.8" r="1.4" fill="#2a5cc2"/><circle cx="266.6" cy="699.3" r="1.4" fill="#2a5cc2"/><circle cx="271.5" cy="694.0" r="1.4" fill="#2a5cc2"/><circle cx="271.9" cy="696.0" r="1.4" fill="#2a5cc2"/><circle cx="274.0" cy="700.3" r="1.4" fill="#2a5cc2"/><circle cx="277.3" cy="695.4" r="1.4" fill="#2a5cc2"/><circle cx="281.2" cy="697.3" r="1.4" fill="#2a5cc2"/><circle cx="285.5" cy="697.9" r="1.4" fill="#2a5cc2"/><circle cx="291.4" cy="693.0" r="1.4" fill="#2a5cc2"/><circle cx="297.9" cy="694.4" r="1.4" fill="#2a5cc2"/><circle cx="308.6" cy="695.8" r="1.4" fill="#2a5cc2"/><circle cx="316.4" cy="689.5" r="1.4" fill="#2a5cc2"/><circle cx="321.9" cy="690.1" r="1.4" fill="#2a5cc2"/><circle cx="322.9" cy="688.2" r="1.4" fill="#2a5cc2"/><circle cx="327.7" cy="686.0" r="1.4" fill="#2a5cc2"/><circle cx="335.4" cy="698.3" r="1.4" fill="#2a5cc2"/><circle cx="341.8" cy="691.5" r="1.4" fill="#2a5cc2"/><circle cx="342.2" cy="693.0" r="1.4" fill="#2a5cc2"/><circle cx="353.1" cy="687.2" r="1.4" fill="#2a5cc2"/><circle cx="353.5" cy="688.2" r="1.4" fill="#2a5cc2"/><circle cx="396.9" cy="686.0" r="1.4" fill="#2a5cc2"/><circle cx="446.1" cy="675.3" r="1.4" fill="#2a5cc2"/><circle cx="453.8" cy="679.2" r="1.4" fill="#2a5cc2"/><circle cx="474.9" cy="672.2" r="1.4" fill="#2a5cc2"/><circle cx="543.5" cy="663.4" r="1.4" fill="#2a5cc2"/><circle cx="560.0" cy="669.3" r="1.4" fill="#2a5cc2"/><line x1="158.5" y1="709.0" x2="559.8" y2="668.4" stroke="#2a5cc2" stroke-width="1.6"/><circle cx="453.6" cy="818.4" r="1.4" fill="#d2401e"/><circle cx="432.1" cy="818.5" r="1.4" fill="#d2401e"/><circle cx="456.2" cy="817.3" r="1.4" fill="#d2401e"/><circle cx="399.9" cy="818.8" r="1.4" fill="#d2401e"/><circle cx="470.1" cy="817.6" r="1.4" fill="#d2401e"/><circle cx="423.5" cy="818.9" r="1.4" fill="#d2401e"/><circle cx="419.8" cy="818.5" r="1.4" fill="#d2401e"/><circle cx="416.8" cy="817.3" r="1.4" fill="#d2401e"/><circle cx="448.5" cy="817.6" r="1.4" fill="#d2401e"/><circle cx="427.5" cy="819.0" r="1.4" fill="#d2401e"/><circle cx="409.4" cy="819.0" r="1.4" fill="#d2401e"/><circle cx="468.5" cy="817.6" r="1.4" fill="#d2401e"/><circle cx="435.8" cy="818.3" r="1.4" fill="#d2401e"/><circle cx="475.7" cy="818.1" r="1.4" fill="#d2401e"/><circle cx="432.0" cy="818.4" r="1.4" fill="#d2401e"/><circle cx="403.3" cy="819.3" r="1.4" fill="#d2401e"/><circle cx="423.4" cy="818.8" r="1.4" fill="#d2401e"/><circle cx="416.7" cy="818.8" r="1.4" fill="#d2401e"/><circle cx="441.6" cy="818.6" r="1.4" fill="#d2401e"/><circle cx="429.0" cy="817.8" r="1.4" fill="#d2401e"/><circle cx="429.1" cy="817.8" r="1.4" fill="#d2401e"/><circle cx="423.1" cy="818.4" r="1.4" fill="#d2401e"/><circle cx="401.0" cy="818.8" r="1.4" fill="#d2401e"/><circle cx="406.1" cy="820.2" r="1.4" fill="#d2401e"/><circle cx="436.3" cy="817.4" r="1.4" fill="#d2401e"/><circle cx="413.3" cy="818.0" r="1.4" fill="#d2401e"/><circle cx="417.7" cy="818.6" r="1.4" fill="#d2401e"/><circle cx="431.7" cy="818.8" r="1.4" fill="#d2401e"/><circle cx="472.3" cy="817.7" r="1.4" fill="#d2401e"/><circle cx="397.7" cy="818.3" r="1.4" fill="#d2401e"/><circle cx="398.6" cy="818.9" r="1.4" fill="#d2401e"/><circle cx="433.9" cy="817.2" r="1.4" fill="#d2401e"/><circle cx="443.0" cy="818.4" r="1.4" fill="#d2401e"/><circle cx="470.1" cy="817.2" r="1.4" fill="#d2401e"/><circle cx="462.0" cy="818.3" r="1.4" fill="#d2401e"/><circle cx="415.9" cy="817.6" r="1.4" fill="#d2401e"/><circle cx="404.7" cy="819.3" r="1.4" fill="#d2401e"/><circle cx="450.6" cy="818.2" r="1.4" fill="#d2401e"/><circle cx="471.3" cy="817.1" r="1.4" fill="#d2401e"/><circle cx="457.2" cy="816.9" r="1.4" fill="#d2401e"/><circle cx="432.6" cy="818.1" r="1.4" fill="#d2401e"/><circle cx="458.6" cy="817.5" r="1.4" fill="#d2401e"/><circle cx="414.6" cy="819.3" r="1.4" fill="#d2401e"/><circle cx="420.3" cy="818.2" r="1.4" fill="#d2401e"/><circle cx="406.2" cy="818.9" r="1.4" fill="#d2401e"/><circle cx="451.9" cy="818.4" r="1.4" fill="#d2401e"/><circle cx="405.0" cy="819.5" r="1.4" fill="#d2401e"/><circle cx="442.6" cy="818.2" r="1.4" fill="#d2401e"/><circle cx="427.0" cy="818.5" r="1.4" fill="#d2401e"/><circle cx="396.8" cy="819.8" r="1.4" fill="#d2401e"/><circle cx="420.1" cy="817.3" r="1.4" fill="#d2401e"/><circle cx="447.6" cy="818.1" r="1.4" fill="#d2401e"/><circle cx="466.7" cy="816.9" r="1.4" fill="#d2401e"/><circle cx="415.8" cy="818.7" r="1.4" fill="#d2401e"/><circle cx="472.8" cy="817.0" r="1.4" fill="#d2401e"/><circle cx="397.7" cy="818.7" r="1.4" fill="#d2401e"/><circle cx="435.9" cy="817.9" r="1.4" fill="#d2401e"/><circle cx="416.6" cy="818.2" r="1.4" fill="#d2401e"/><circle cx="449.4" cy="818.1" r="1.4" fill="#d2401e"/><circle cx="398.7" cy="819.0" r="1.4" fill="#d2401e"/><circle cx="423.0" cy="817.8" r="1.4" fill="#d2401e"/><circle cx="411.8" cy="819.1" r="1.4" fill="#d2401e"/><circle cx="459.8" cy="817.5" r="1.4" fill="#d2401e"/><circle cx="412.4" cy="818.2" r="1.4" fill="#d2401e"/><circle cx="473.6" cy="816.8" r="1.4" fill="#d2401e"/><circle cx="414.5" cy="819.6" r="1.4" fill="#d2401e"/><circle cx="413.7" cy="818.8" r="1.4" fill="#d2401e"/><circle cx="472.2" cy="816.7" r="1.4" fill="#d2401e"/><circle cx="435.7" cy="818.3" r="1.4" fill="#d2401e"/><circle cx="429.4" cy="818.6" r="1.4" fill="#d2401e"/><circle cx="449.2" cy="818.0" r="1.4" fill="#d2401e"/><circle cx="427.5" cy="818.3" r="1.4" fill="#d2401e"/><circle cx="413.0" cy="819.0" r="1.4" fill="#d2401e"/><circle cx="400.1" cy="819.0" r="1.4" fill="#d2401e"/><circle cx="400.8" cy="818.2" r="1.4" fill="#d2401e"/><circle cx="466.7" cy="818.0" r="1.4" fill="#d2401e"/><circle cx="454.6" cy="818.8" r="1.4" fill="#d2401e"/><circle cx="422.3" cy="818.5" r="1.4" fill="#d2401e"/><circle cx="410.8" cy="819.6" r="1.4" fill="#d2401e"/><circle cx="398.6" cy="818.8" r="1.4" fill="#d2401e"/><circle cx="449.2" cy="817.4" r="1.4" fill="#d2401e"/><circle cx="422.5" cy="818.8" r="1.4" fill="#d2401e"/><circle cx="409.5" cy="819.2" r="1.4" fill="#d2401e"/><circle cx="424.1" cy="818.5" r="1.4" fill="#d2401e"/><circle cx="472.4" cy="818.1" r="1.4" fill="#d2401e"/><circle cx="412.6" cy="819.7" r="1.4" fill="#d2401e"/><circle cx="424.5" cy="818.8" r="1.4" fill="#d2401e"/><circle cx="430.6" cy="817.4" r="1.4" fill="#d2401e"/><circle cx="399.9" cy="818.6" r="1.4" fill="#d2401e"/><circle cx="469.6" cy="817.3" r="1.4" fill="#d2401e"/><circle cx="411.4" cy="818.1" r="1.4" fill="#d2401e"/><circle cx="398.4" cy="819.9" r="1.4" fill="#d2401e"/><circle cx="428.9" cy="818.6" r="1.4" fill="#d2401e"/><circle cx="399.3" cy="818.3" r="1.4" fill="#d2401e"/><circle cx="398.8" cy="820.2" r="1.4" fill="#d2401e"/><circle cx="416.6" cy="819.1" r="1.4" fill="#d2401e"/><circle cx="455.8" cy="818.0" r="1.4" fill="#d2401e"/><circle cx="417.8" cy="818.3" r="1.4" fill="#d2401e"/><circle cx="472.6" cy="816.9" r="1.4" fill="#d2401e"/><circle cx="453.3" cy="817.4" r="1.4" fill="#d2401e"/><circle cx="421.3" cy="818.5" r="1.4" fill="#d2401e"/><circle cx="456.5" cy="817.6" r="1.4" fill="#d2401e"/><circle cx="469.3" cy="816.4" r="1.4" fill="#d2401e"/><circle cx="397.9" cy="818.3" r="1.4" fill="#d2401e"/><circle cx="414.7" cy="817.5" r="1.4" fill="#d2401e"/><circle cx="472.3" cy="817.4" r="1.4" fill="#d2401e"/><circle cx="426.9" cy="818.4" r="1.4" fill="#d2401e"/><circle cx="435.5" cy="818.7" r="1.4" fill="#d2401e"/><circle cx="470.2" cy="817.6" r="1.4" fill="#d2401e"/><circle cx="455.1" cy="818.4" r="1.4" fill="#d2401e"/><circle cx="569.4" cy="814.2" r="1.4" fill="#d2401e"/><circle cx="512.0" cy="814.4" r="1.4" fill="#d2401e"/><circle cx="511.1" cy="814.6" r="1.4" fill="#d2401e"/><circle cx="483.2" cy="817.6" r="1.4" fill="#d2401e"/><circle cx="496.9" cy="816.0" r="1.4" fill="#d2401e"/><circle cx="481.5" cy="815.7" r="1.4" fill="#d2401e"/><circle cx="477.9" cy="815.8" r="1.4" fill="#d2401e"/><circle cx="587.7" cy="813.3" r="1.4" fill="#d2401e"/><circle cx="576.5" cy="814.6" r="1.4" fill="#d2401e"/><circle cx="483.8" cy="816.3" r="1.4" fill="#d2401e"/><circle cx="485.2" cy="814.9" r="1.4" fill="#d2401e"/><circle cx="525.8" cy="815.2" r="1.4" fill="#d2401e"/><circle cx="501.2" cy="814.8" r="1.4" fill="#d2401e"/><circle cx="552.2" cy="815.1" r="1.4" fill="#d2401e"/><circle cx="560.8" cy="815.0" r="1.4" fill="#d2401e"/><circle cx="488.1" cy="815.1" r="1.4" fill="#d2401e"/><circle cx="571.5" cy="813.7" r="1.4" fill="#d2401e"/><circle cx="517.3" cy="816.6" r="1.4" fill="#d2401e"/><circle cx="559.6" cy="814.5" r="1.4" fill="#d2401e"/><circle cx="502.5" cy="816.5" r="1.4" fill="#d2401e"/><circle cx="491.8" cy="817.0" r="1.4" fill="#d2401e"/><circle cx="511.9" cy="814.8" r="1.4" fill="#d2401e"/><circle cx="519.9" cy="816.5" r="1.4" fill="#d2401e"/><circle cx="500.8" cy="815.8" r="1.4" fill="#d2401e"/><circle cx="567.8" cy="812.5" r="1.4" fill="#d2401e"/><circle cx="485.9" cy="814.0" r="1.4" fill="#d2401e"/><circle cx="529.1" cy="815.9" r="1.4" fill="#d2401e"/><circle cx="580.1" cy="812.2" r="1.4" fill="#d2401e"/><circle cx="478.7" cy="816.4" r="1.4" fill="#d2401e"/><circle cx="496.0" cy="816.5" r="1.4" fill="#d2401e"/><circle cx="586.9" cy="811.8" r="1.4" fill="#d2401e"/><circle cx="517.2" cy="814.4" r="1.4" fill="#d2401e"/><circle cx="574.5" cy="813.3" r="1.4" fill="#d2401e"/><circle cx="564.2" cy="814.4" r="1.4" fill="#d2401e"/><circle cx="583.7" cy="814.6" r="1.4" fill="#d2401e"/><circle cx="545.9" cy="815.4" r="1.4" fill="#d2401e"/><circle cx="499.2" cy="815.6" r="1.4" fill="#d2401e"/><circle cx="497.7" cy="816.3" r="1.4" fill="#d2401e"/><circle cx="503.6" cy="814.8" r="1.4" fill="#d2401e"/><circle cx="497.6" cy="815.2" r="1.4" fill="#d2401e"/><circle cx="475.3" cy="815.9" r="1.4" fill="#d2401e"/><circle cx="495.5" cy="817.2" r="1.4" fill="#d2401e"/><circle cx="510.2" cy="816.1" r="1.4" fill="#d2401e"/><circle cx="537.6" cy="816.4" r="1.4" fill="#d2401e"/><circle cx="481.3" cy="817.1" r="1.4" fill="#d2401e"/><circle cx="537.8" cy="815.4" r="1.4" fill="#d2401e"/><circle cx="548.1" cy="815.1" r="1.4" fill="#d2401e"/><circle cx="554.7" cy="814.7" r="1.4" fill="#d2401e"/><circle cx="521.5" cy="815.2" r="1.4" fill="#d2401e"/><circle cx="584.6" cy="814.4" r="1.4" fill="#d2401e"/><circle cx="510.2" cy="814.9" r="1.4" fill="#d2401e"/><circle cx="522.3" cy="815.0" r="1.4" fill="#d2401e"/><circle cx="574.3" cy="814.8" r="1.4" fill="#d2401e"/><circle cx="496.9" cy="816.0" r="1.4" fill="#d2401e"/><circle cx="558.5" cy="814.4" r="1.4" fill="#d2401e"/><circle cx="578.6" cy="813.9" r="1.4" fill="#d2401e"/><circle cx="523.2" cy="815.7" r="1.4" fill="#d2401e"/><circle cx="576.4" cy="813.0" r="1.4" fill="#d2401e"/><circle cx="527.5" cy="815.3" r="1.4" fill="#d2401e"/><circle cx="538.0" cy="815.0" r="1.4" fill="#d2401e"/><circle cx="548.3" cy="814.9" r="1.4" fill="#d2401e"/><circle cx="546.2" cy="814.5" r="1.4" fill="#d2401e"/><circle cx="517.0" cy="815.0" r="1.4" fill="#d2401e"/><circle cx="506.9" cy="815.7" r="1.4" fill="#d2401e"/><circle cx="534.5" cy="815.4" r="1.4" fill="#d2401e"/><circle cx="530.9" cy="814.9" r="1.4" fill="#d2401e"/><circle cx="567.4" cy="814.7" r="1.4" fill="#d2401e"/><circle cx="488.7" cy="816.1" r="1.4" fill="#d2401e"/><circle cx="583.4" cy="814.7" r="1.4" fill="#d2401e"/><circle cx="480.2" cy="816.3" r="1.4" fill="#d2401e"/><circle cx="581.4" cy="812.2" r="1.4" fill="#d2401e"/><circle cx="546.0" cy="815.9" r="1.4" fill="#d2401e"/><circle cx="569.6" cy="814.9" r="1.4" fill="#d2401e"/><circle cx="499.8" cy="817.3" r="1.4" fill="#d2401e"/><circle cx="520.9" cy="816.3" r="1.4" fill="#d2401e"/><circle cx="495.2" cy="814.7" r="1.4" fill="#d2401e"/><circle cx="499.3" cy="815.1" r="1.4" fill="#d2401e"/><circle cx="518.5" cy="816.1" r="1.4" fill="#d2401e"/><circle cx="488.3" cy="816.3" r="1.4" fill="#d2401e"/><circle cx="578.1" cy="815.3" r="1.4" fill="#d2401e"/><circle cx="478.8" cy="815.1" r="1.4" fill="#d2401e"/><circle cx="478.4" cy="815.9" r="1.4" fill="#d2401e"/><circle cx="571.2" cy="814.9" r="1.4" fill="#d2401e"/><circle cx="537.8" cy="815.7" r="1.4" fill="#d2401e"/><circle cx="546.7" cy="814.3" r="1.4" fill="#d2401e"/><circle cx="541.6" cy="815.7" r="1.4" fill="#d2401e"/><circle cx="523.4" cy="814.8" r="1.4" fill="#d2401e"/><circle cx="524.8" cy="814.4" r="1.4" fill="#d2401e"/><circle cx="476.7" cy="815.8" r="1.4" fill="#d2401e"/><circle cx="501.3" cy="815.2" r="1.4" fill="#d2401e"/><circle cx="562.6" cy="814.4" r="1.4" fill="#d2401e"/><circle cx="494.8" cy="815.1" r="1.4" fill="#d2401e"/><circle cx="528.9" cy="815.5" r="1.4" fill="#d2401e"/><circle cx="523.9" cy="815.6" r="1.4" fill="#d2401e"/><circle cx="484.6" cy="815.3" r="1.4" fill="#d2401e"/><circle cx="478.7" cy="816.9" r="1.4" fill="#d2401e"/><circle cx="547.8" cy="815.9" r="1.4" fill="#d2401e"/><circle cx="564.2" cy="814.9" r="1.4" fill="#d2401e"/><circle cx="533.3" cy="816.0" r="1.4" fill="#d2401e"/><circle cx="517.8" cy="815.8" r="1.4" fill="#d2401e"/><circle cx="584.3" cy="814.8" r="1.4" fill="#d2401e"/><circle cx="589.6" cy="814.9" r="1.4" fill="#d2401e"/><circle cx="558.9" cy="814.6" r="1.4" fill="#d2401e"/><circle cx="587.9" cy="813.0" r="1.4" fill="#d2401e"/><circle cx="531.1" cy="817.0" r="1.4" fill="#d2401e"/><circle cx="493.2" cy="815.6" r="1.4" fill="#d2401e"/><circle cx="565.5" cy="814.5" r="1.4" fill="#d2401e"/><circle cx="514.7" cy="815.4" r="1.4" fill="#d2401e"/><circle cx="561.7" cy="815.3" r="1.4" fill="#d2401e"/><circle cx="505.9" cy="817.4" r="1.4" fill="#d2401e"/><circle cx="568.6" cy="814.7" r="1.4" fill="#d2401e"/><circle cx="580.7" cy="814.6" r="1.4" fill="#d2401e"/><circle cx="498.2" cy="815.9" r="1.4" fill="#d2401e"/><circle cx="511.0" cy="816.7" r="1.4" fill="#d2401e"/><circle cx="478.3" cy="816.7" r="1.4" fill="#d2401e"/><circle cx="582.6" cy="814.2" r="1.4" fill="#d2401e"/><circle cx="552.8" cy="814.9" r="1.4" fill="#d2401e"/><circle cx="565.0" cy="813.8" r="1.4" fill="#d2401e"/><circle cx="487.3" cy="815.0" r="1.4" fill="#d2401e"/><circle cx="515.7" cy="815.2" r="1.4" fill="#d2401e"/><circle cx="575.3" cy="812.8" r="1.4" fill="#d2401e"/><circle cx="576.4" cy="813.5" r="1.4" fill="#d2401e"/><circle cx="486.1" cy="817.6" r="1.4" fill="#d2401e"/><circle cx="519.7" cy="815.3" r="1.4" fill="#d2401e"/><circle cx="566.5" cy="813.9" r="1.4" fill="#d2401e"/><circle cx="541.0" cy="817.6" r="1.4" fill="#d2401e"/><circle cx="515.8" cy="815.6" r="1.4" fill="#d2401e"/><circle cx="494.5" cy="815.1" r="1.4" fill="#d2401e"/><circle cx="560.3" cy="815.9" r="1.4" fill="#d2401e"/><circle cx="503.4" cy="816.3" r="1.4" fill="#d2401e"/><circle cx="548.2" cy="815.8" r="1.4" fill="#d2401e"/><circle cx="551.0" cy="814.4" r="1.4" fill="#d2401e"/><circle cx="510.3" cy="815.9" r="1.4" fill="#d2401e"/><circle cx="491.3" cy="816.2" r="1.4" fill="#d2401e"/><circle cx="545.5" cy="813.7" r="1.4" fill="#d2401e"/><circle cx="577.9" cy="814.3" r="1.4" fill="#d2401e"/><circle cx="489.3" cy="816.4" r="1.4" fill="#d2401e"/><circle cx="476.6" cy="817.8" r="1.4" fill="#d2401e"/><circle cx="474.3" cy="816.3" r="1.4" fill="#d2401e"/><circle cx="515.4" cy="815.8" r="1.4" fill="#d2401e"/><circle cx="500.0" cy="814.9" r="1.4" fill="#d2401e"/><circle cx="497.7" cy="815.4" r="1.4" fill="#d2401e"/><circle cx="546.4" cy="814.2" r="1.4" fill="#d2401e"/><circle cx="582.6" cy="813.8" r="1.4" fill="#d2401e"/><circle cx="502.3" cy="816.1" r="1.4" fill="#d2401e"/><circle cx="548.0" cy="815.0" r="1.4" fill="#d2401e"/><circle cx="575.1" cy="814.1" r="1.4" fill="#d2401e"/><circle cx="504.7" cy="814.9" r="1.4" fill="#d2401e"/><circle cx="475.3" cy="815.9" r="1.4" fill="#d2401e"/><circle cx="514.6" cy="814.6" r="1.4" fill="#d2401e"/><circle cx="548.9" cy="812.6" r="1.4" fill="#d2401e"/><circle cx="559.1" cy="815.1" r="1.4" fill="#d2401e"/><circle cx="502.8" cy="816.1" r="1.4" fill="#d2401e"/><circle cx="535.7" cy="814.8" r="1.4" fill="#d2401e"/><circle cx="521.1" cy="815.4" r="1.4" fill="#d2401e"/><circle cx="564.3" cy="814.5" r="1.4" fill="#d2401e"/><circle cx="475.4" cy="814.5" r="1.4" fill="#d2401e"/><circle cx="490.5" cy="815.5" r="1.4" fill="#d2401e"/><circle cx="497.1" cy="815.2" r="1.4" fill="#d2401e"/><circle cx="548.4" cy="813.9" r="1.4" fill="#d2401e"/><circle cx="568.4" cy="814.4" r="1.4" fill="#d2401e"/><circle cx="508.8" cy="816.4" r="1.4" fill="#d2401e"/><circle cx="479.6" cy="817.7" r="1.4" fill="#d2401e"/><circle cx="557.0" cy="813.4" r="1.4" fill="#d2401e"/><circle cx="474.7" cy="817.4" r="1.4" fill="#d2401e"/><circle cx="528.0" cy="813.9" r="1.4" fill="#d2401e"/><circle cx="560.0" cy="813.7" r="1.4" fill="#d2401e"/><circle cx="486.2" cy="816.5" r="1.4" fill="#d2401e"/><circle cx="500.9" cy="816.7" r="1.4" fill="#d2401e"/><circle cx="561.0" cy="814.5" r="1.4" fill="#d2401e"/><circle cx="554.6" cy="815.3" r="1.4" fill="#d2401e"/><circle cx="504.9" cy="814.6" r="1.4" fill="#d2401e"/><circle cx="538.2" cy="813.4" r="1.4" fill="#d2401e"/><circle cx="534.7" cy="815.6" r="1.4" fill="#d2401e"/><circle cx="504.8" cy="814.3" r="1.4" fill="#d2401e"/><circle cx="499.2" cy="814.1" r="1.4" fill="#d2401e"/><circle cx="576.1" cy="814.6" r="1.4" fill="#d2401e"/><circle cx="501.4" cy="815.9" r="1.4" fill="#d2401e"/><circle cx="560.3" cy="815.7" r="1.4" fill="#d2401e"/><circle cx="511.9" cy="815.1" r="1.4" fill="#d2401e"/><circle cx="576.1" cy="813.6" r="1.4" fill="#d2401e"/><circle cx="579.3" cy="814.4" r="1.4" fill="#d2401e"/><circle cx="547.2" cy="814.2" r="1.4" fill="#d2401e"/><circle cx="587.6" cy="812.3" r="1.4" fill="#d2401e"/><circle cx="528.5" cy="815.9" r="1.4" fill="#d2401e"/><circle cx="573.5" cy="812.8" r="1.4" fill="#d2401e"/><circle cx="524.7" cy="815.1" r="1.4" fill="#d2401e"/><circle cx="509.7" cy="814.5" r="1.4" fill="#d2401e"/><circle cx="498.6" cy="815.7" r="1.4" fill="#d2401e"/><circle cx="579.7" cy="813.5" r="1.4" fill="#d2401e"/><circle cx="490.8" cy="816.6" r="1.4" fill="#d2401e"/><circle cx="581.8" cy="813.8" r="1.4" fill="#d2401e"/><circle cx="514.0" cy="815.7" r="1.4" fill="#d2401e"/><circle cx="478.8" cy="816.7" r="1.4" fill="#d2401e"/><circle cx="554.3" cy="813.5" r="1.4" fill="#d2401e"/><circle cx="559.5" cy="813.3" r="1.4" fill="#d2401e"/><circle cx="481.6" cy="815.7" r="1.4" fill="#d2401e"/><circle cx="568.8" cy="813.6" r="1.4" fill="#d2401e"/><circle cx="569.1" cy="814.3" r="1.4" fill="#d2401e"/><circle cx="574.7" cy="813.7" r="1.4" fill="#d2401e"/><circle cx="580.1" cy="814.2" r="1.4" fill="#d2401e"/><circle cx="497.9" cy="815.8" r="1.4" fill="#d2401e"/><circle cx="487.0" cy="818.0" r="1.4" fill="#d2401e"/><circle cx="568.2" cy="814.5" r="1.4" fill="#d2401e"/><circle cx="547.6" cy="815.2" r="1.4" fill="#d2401e"/><circle cx="507.3" cy="814.6" r="1.4" fill="#d2401e"/><circle cx="485.6" cy="817.5" r="1.4" fill="#d2401e"/><circle cx="497.8" cy="816.8" r="1.4" fill="#d2401e"/><circle cx="511.0" cy="815.5" r="1.4" fill="#d2401e"/><circle cx="503.8" cy="815.9" r="1.4" fill="#d2401e"/><circle cx="506.8" cy="815.6" r="1.4" fill="#d2401e"/><circle cx="511.2" cy="814.8" r="1.4" fill="#d2401e"/><circle cx="585.8" cy="811.9" r="1.4" fill="#d2401e"/><circle cx="545.7" cy="814.6" r="1.4" fill="#d2401e"/><circle cx="477.6" cy="815.7" r="1.4" fill="#d2401e"/><circle cx="563.7" cy="814.7" r="1.4" fill="#d2401e"/><circle cx="514.2" cy="815.2" r="1.4" fill="#d2401e"/><circle cx="499.1" cy="814.9" r="1.4" fill="#d2401e"/><circle cx="574.0" cy="815.3" r="1.4" fill="#d2401e"/><circle cx="493.8" cy="817.0" r="1.4" fill="#d2401e"/><circle cx="474.2" cy="817.1" r="1.4" fill="#d2401e"/><circle cx="587.4" cy="815.0" r="1.4" fill="#d2401e"/><circle cx="474.5" cy="815.6" r="1.4" fill="#d2401e"/><circle cx="566.4" cy="814.2" r="1.4" fill="#d2401e"/><circle cx="495.4" cy="815.2" r="1.4" fill="#d2401e"/><circle cx="570.5" cy="814.1" r="1.4" fill="#d2401e"/><circle cx="504.2" cy="816.5" r="1.4" fill="#d2401e"/><circle cx="498.9" cy="815.7" r="1.4" fill="#d2401e"/><circle cx="555.1" cy="814.0" r="1.4" fill="#d2401e"/><circle cx="547.8" cy="814.6" r="1.4" fill="#d2401e"/><circle cx="483.4" cy="816.7" r="1.4" fill="#d2401e"/><circle cx="565.3" cy="812.8" r="1.4" fill="#d2401e"/><circle cx="546.8" cy="814.1" r="1.4" fill="#d2401e"/><circle cx="519.8" cy="816.1" r="1.4" fill="#d2401e"/><circle cx="577.3" cy="815.5" r="1.4" fill="#d2401e"/><circle cx="476.9" cy="817.5" r="1.4" fill="#d2401e"/><circle cx="497.9" cy="815.8" r="1.4" fill="#d2401e"/><circle cx="532.1" cy="817.0" r="1.4" fill="#d2401e"/><circle cx="518.0" cy="815.9" r="1.4" fill="#d2401e"/><circle cx="527.5" cy="814.7" r="1.4" fill="#d2401e"/><circle cx="535.7" cy="815.0" r="1.4" fill="#d2401e"/><circle cx="549.0" cy="813.1" r="1.4" fill="#d2401e"/><circle cx="514.4" cy="815.3" r="1.4" fill="#d2401e"/><circle cx="571.8" cy="814.5" r="1.4" fill="#d2401e"/><circle cx="550.8" cy="814.5" r="1.4" fill="#d2401e"/><circle cx="524.9" cy="814.7" r="1.4" fill="#d2401e"/><circle cx="563.7" cy="813.8" r="1.4" fill="#d2401e"/><circle cx="527.6" cy="815.0" r="1.4" fill="#d2401e"/><circle cx="576.7" cy="813.9" r="1.4" fill="#d2401e"/><circle cx="509.0" cy="816.3" r="1.4" fill="#d2401e"/><circle cx="555.6" cy="814.7" r="1.4" fill="#d2401e"/><circle cx="492.1" cy="815.7" r="1.4" fill="#d2401e"/><circle cx="502.7" cy="815.3" r="1.4" fill="#d2401e"/><circle cx="492.7" cy="817.1" r="1.4" fill="#d2401e"/><circle cx="512.1" cy="816.5" r="1.4" fill="#d2401e"/><circle cx="558.5" cy="816.6" r="1.4" fill="#d2401e"/><circle cx="485.8" cy="816.7" r="1.4" fill="#d2401e"/><circle cx="518.6" cy="815.3" r="1.4" fill="#d2401e"/><circle cx="588.1" cy="814.0" r="1.4" fill="#d2401e"/><circle cx="524.5" cy="813.9" r="1.4" fill="#d2401e"/><circle cx="496.8" cy="815.7" r="1.4" fill="#d2401e"/><circle cx="497.9" cy="815.6" r="1.4" fill="#d2401e"/><circle cx="519.0" cy="816.3" r="1.4" fill="#d2401e"/><circle cx="565.8" cy="814.3" r="1.4" fill="#d2401e"/><circle cx="554.4" cy="813.2" r="1.4" fill="#d2401e"/><circle cx="527.7" cy="815.2" r="1.4" fill="#d2401e"/><circle cx="490.5" cy="815.4" r="1.4" fill="#d2401e"/><circle cx="559.9" cy="813.8" r="1.4" fill="#d2401e"/><circle cx="579.3" cy="812.7" r="1.4" fill="#d2401e"/><circle cx="560.9" cy="814.8" r="1.4" fill="#d2401e"/><circle cx="522.9" cy="815.5" r="1.4" fill="#d2401e"/><circle cx="576.1" cy="815.3" r="1.4" fill="#d2401e"/><circle cx="563.8" cy="813.7" r="1.4" fill="#d2401e"/><circle cx="552.8" cy="812.8" r="1.4" fill="#d2401e"/><circle cx="548.4" cy="813.9" r="1.4" fill="#d2401e"/><circle cx="546.9" cy="814.9" r="1.4" fill="#d2401e"/><circle cx="485.4" cy="814.9" r="1.4" fill="#d2401e"/><circle cx="556.7" cy="815.2" r="1.4" fill="#d2401e"/><circle cx="547.0" cy="814.7" r="1.4" fill="#d2401e"/><circle cx="526.8" cy="816.1" r="1.4" fill="#d2401e"/><circle cx="546.1" cy="813.5" r="1.4" fill="#d2401e"/><circle cx="581.9" cy="814.4" r="1.4" fill="#d2401e"/><circle cx="495.2" cy="815.2" r="1.4" fill="#d2401e"/><circle cx="519.1" cy="814.1" r="1.4" fill="#d2401e"/><circle cx="530.8" cy="815.3" r="1.4" fill="#d2401e"/><circle cx="537.0" cy="814.9" r="1.4" fill="#d2401e"/><circle cx="492.7" cy="816.5" r="1.4" fill="#d2401e"/><circle cx="534.2" cy="812.9" r="1.4" fill="#d2401e"/><circle cx="485.7" cy="815.3" r="1.4" fill="#d2401e"/><circle cx="557.2" cy="813.9" r="1.4" fill="#d2401e"/><circle cx="533.4" cy="813.9" r="1.4" fill="#d2401e"/><circle cx="534.5" cy="813.7" r="1.4" fill="#d2401e"/><circle cx="521.6" cy="815.9" r="1.4" fill="#d2401e"/><circle cx="553.4" cy="814.3" r="1.4" fill="#d2401e"/><circle cx="519.5" cy="815.4" r="1.4" fill="#d2401e"/><circle cx="588.2" cy="813.1" r="1.4" fill="#d2401e"/><circle cx="515.2" cy="816.2" r="1.4" fill="#d2401e"/><circle cx="520.4" cy="815.6" r="1.4" fill="#d2401e"/><circle cx="475.5" cy="815.8" r="1.4" fill="#d2401e"/><circle cx="555.0" cy="814.9" r="1.4" fill="#d2401e"/><circle cx="514.8" cy="815.5" r="1.4" fill="#d2401e"/><circle cx="560.0" cy="814.9" r="1.4" fill="#d2401e"/><circle cx="583.0" cy="813.1" r="1.4" fill="#d2401e"/><circle cx="567.0" cy="814.0" r="1.4" fill="#d2401e"/><circle cx="519.5" cy="815.5" r="1.4" fill="#d2401e"/><circle cx="564.1" cy="814.7" r="1.4" fill="#d2401e"/><circle cx="567.9" cy="813.4" r="1.4" fill="#d2401e"/><circle cx="539.2" cy="814.1" r="1.4" fill="#d2401e"/><circle cx="500.2" cy="816.7" r="1.4" fill="#d2401e"/><circle cx="548.1" cy="814.4" r="1.4" fill="#d2401e"/><circle cx="569.0" cy="814.5" r="1.4" fill="#d2401e"/><circle cx="508.1" cy="814.8" r="1.4" fill="#d2401e"/><circle cx="537.6" cy="816.1" r="1.4" fill="#d2401e"/><circle cx="515.2" cy="816.7" r="1.4" fill="#d2401e"/><circle cx="572.7" cy="813.9" r="1.4" fill="#d2401e"/><circle cx="503.4" cy="816.7" r="1.4" fill="#d2401e"/><circle cx="523.4" cy="815.3" r="1.4" fill="#d2401e"/><circle cx="557.7" cy="814.4" r="1.4" fill="#d2401e"/><circle cx="506.6" cy="815.8" r="1.4" fill="#d2401e"/><circle cx="529.6" cy="815.9" r="1.4" fill="#d2401e"/><circle cx="523.7" cy="814.4" r="1.4" fill="#d2401e"/><circle cx="516.0" cy="814.5" r="1.4" fill="#d2401e"/><circle cx="581.7" cy="813.9" r="1.4" fill="#d2401e"/><circle cx="570.0" cy="813.8" r="1.4" fill="#d2401e"/><circle cx="579.1" cy="813.9" r="1.4" fill="#d2401e"/><circle cx="570.4" cy="813.5" r="1.4" fill="#d2401e"/><circle cx="547.4" cy="814.8" r="1.4" fill="#d2401e"/><circle cx="584.4" cy="813.7" r="1.4" fill="#d2401e"/><circle cx="550.1" cy="814.6" r="1.4" fill="#d2401e"/><circle cx="490.6" cy="816.6" r="1.4" fill="#d2401e"/><circle cx="501.1" cy="816.0" r="1.4" fill="#d2401e"/><circle cx="491.7" cy="815.3" r="1.4" fill="#d2401e"/><circle cx="578.9" cy="813.9" r="1.4" fill="#d2401e"/><circle cx="577.4" cy="813.3" r="1.4" fill="#d2401e"/><circle cx="544.6" cy="815.0" r="1.4" fill="#d2401e"/><circle cx="577.7" cy="812.5" r="1.4" fill="#d2401e"/><circle cx="565.4" cy="814.5" r="1.4" fill="#d2401e"/><circle cx="554.4" cy="814.0" r="1.4" fill="#d2401e"/><circle cx="535.6" cy="814.9" r="1.4" fill="#d2401e"/><circle cx="576.4" cy="812.9" r="1.4" fill="#d2401e"/><circle cx="538.4" cy="814.8" r="1.4" fill="#d2401e"/><circle cx="490.2" cy="816.8" r="1.4" fill="#d2401e"/><circle cx="531.2" cy="816.0" r="1.4" fill="#d2401e"/><circle cx="490.8" cy="816.5" r="1.4" fill="#d2401e"/><circle cx="531.0" cy="814.0" r="1.4" fill="#d2401e"/><circle cx="574.1" cy="813.9" r="1.4" fill="#d2401e"/><circle cx="474.8" cy="817.1" r="1.4" fill="#d2401e"/><circle cx="539.3" cy="814.0" r="1.4" fill="#d2401e"/><circle cx="551.2" cy="815.0" r="1.4" fill="#d2401e"/><circle cx="522.6" cy="814.6" r="1.4" fill="#d2401e"/><circle cx="585.4" cy="814.8" r="1.4" fill="#d2401e"/><circle cx="547.8" cy="815.2" r="1.4" fill="#d2401e"/><circle cx="477.3" cy="815.5" r="1.4" fill="#d2401e"/><circle cx="582.1" cy="812.8" r="1.4" fill="#d2401e"/><circle cx="512.3" cy="816.7" r="1.4" fill="#d2401e"/><circle cx="530.2" cy="815.0" r="1.4" fill="#d2401e"/><circle cx="578.1" cy="815.2" r="1.4" fill="#d2401e"/><circle cx="546.5" cy="815.0" r="1.4" fill="#d2401e"/><circle cx="513.3" cy="816.1" r="1.4" fill="#d2401e"/><circle cx="529.0" cy="814.5" r="1.4" fill="#d2401e"/><circle cx="535.0" cy="815.1" r="1.4" fill="#d2401e"/><circle cx="524.5" cy="814.6" r="1.4" fill="#d2401e"/><circle cx="523.0" cy="813.7" r="1.4" fill="#d2401e"/><circle cx="508.0" cy="815.1" r="1.4" fill="#d2401e"/><circle cx="570.0" cy="813.2" r="1.4" fill="#d2401e"/><circle cx="505.5" cy="816.4" r="1.4" fill="#d2401e"/><circle cx="532.7" cy="816.3" r="1.4" fill="#d2401e"/><circle cx="565.9" cy="813.9" r="1.4" fill="#d2401e"/><circle cx="512.4" cy="815.3" r="1.4" fill="#d2401e"/><circle cx="542.0" cy="815.5" r="1.4" fill="#d2401e"/><circle cx="547.6" cy="814.7" r="1.4" fill="#d2401e"/><circle cx="557.8" cy="814.1" r="1.4" fill="#d2401e"/><circle cx="576.7" cy="813.6" r="1.4" fill="#d2401e"/><circle cx="508.8" cy="815.6" r="1.4" fill="#d2401e"/><circle cx="474.7" cy="817.3" r="1.4" fill="#d2401e"/><circle cx="544.6" cy="816.6" r="1.4" fill="#d2401e"/><circle cx="550.3" cy="815.0" r="1.4" fill="#d2401e"/><circle cx="545.0" cy="812.8" r="1.4" fill="#d2401e"/><circle cx="545.5" cy="813.7" r="1.4" fill="#d2401e"/><circle cx="543.2" cy="813.8" r="1.4" fill="#d2401e"/><circle cx="553.0" cy="814.8" r="1.4" fill="#d2401e"/><circle cx="527.1" cy="816.5" r="1.4" fill="#d2401e"/><circle cx="562.5" cy="814.7" r="1.4" fill="#d2401e"/><circle cx="478.3" cy="816.8" r="1.4" fill="#d2401e"/><circle cx="563.8" cy="815.3" r="1.4" fill="#d2401e"/><circle cx="516.8" cy="814.8" r="1.4" fill="#d2401e"/><circle cx="569.4" cy="814.3" r="1.4" fill="#d2401e"/><circle cx="503.9" cy="814.7" r="1.4" fill="#d2401e"/><circle cx="509.0" cy="815.0" r="1.4" fill="#d2401e"/><circle cx="524.0" cy="815.6" r="1.4" fill="#d2401e"/><circle cx="548.4" cy="814.9" r="1.4" fill="#d2401e"/><circle cx="539.8" cy="814.7" r="1.4" fill="#d2401e"/><circle cx="478.6" cy="817.7" r="1.4" fill="#d2401e"/><circle cx="540.7" cy="815.9" r="1.4" fill="#d2401e"/><circle cx="580.6" cy="813.6" r="1.4" fill="#d2401e"/><circle cx="518.9" cy="815.5" r="1.4" fill="#d2401e"/><circle cx="542.7" cy="817.1" r="1.4" fill="#d2401e"/><circle cx="529.2" cy="814.2" r="1.4" fill="#d2401e"/><circle cx="521.8" cy="816.4" r="1.4" fill="#d2401e"/><circle cx="498.6" cy="816.7" r="1.4" fill="#d2401e"/><circle cx="491.6" cy="816.2" r="1.4" fill="#d2401e"/><circle cx="553.3" cy="814.5" r="1.4" fill="#d2401e"/><circle cx="488.1" cy="816.6" r="1.4" fill="#d2401e"/><circle cx="574.9" cy="813.8" r="1.4" fill="#d2401e"/><circle cx="489.0" cy="817.6" r="1.4" fill="#d2401e"/><circle cx="502.1" cy="816.0" r="1.4" fill="#d2401e"/><circle cx="559.1" cy="814.4" r="1.4" fill="#d2401e"/><circle cx="563.8" cy="814.5" r="1.4" fill="#d2401e"/><circle cx="556.8" cy="815.3" r="1.4" fill="#d2401e"/><circle cx="483.8" cy="815.2" r="1.4" fill="#d2401e"/><circle cx="546.9" cy="814.4" r="1.4" fill="#d2401e"/><circle cx="582.2" cy="812.7" r="1.4" fill="#d2401e"/><circle cx="503.5" cy="817.2" r="1.4" fill="#d2401e"/><circle cx="475.3" cy="816.3" r="1.4" fill="#d2401e"/><circle cx="475.7" cy="815.6" r="1.4" fill="#d2401e"/><circle cx="483.2" cy="815.0" r="1.4" fill="#d2401e"/><circle cx="510.1" cy="815.6" r="1.4" fill="#d2401e"/><circle cx="573.9" cy="813.4" r="1.4" fill="#d2401e"/><circle cx="530.4" cy="815.9" r="1.4" fill="#d2401e"/><circle cx="540.7" cy="815.1" r="1.4" fill="#d2401e"/><circle cx="524.9" cy="813.7" r="1.4" fill="#d2401e"/><circle cx="566.5" cy="812.1" r="1.4" fill="#d2401e"/><circle cx="516.1" cy="812.9" r="1.4" fill="#d2401e"/><circle cx="522.5" cy="812.3" r="1.4" fill="#d2401e"/><circle cx="518.7" cy="813.3" r="1.4" fill="#d2401e"/><circle cx="565.0" cy="809.2" r="1.4" fill="#d2401e"/><circle cx="539.8" cy="813.5" r="1.4" fill="#d2401e"/><circle cx="587.0" cy="811.8" r="1.4" fill="#d2401e"/><circle cx="555.6" cy="812.6" r="1.4" fill="#d2401e"/><circle cx="544.3" cy="812.3" r="1.4" fill="#d2401e"/><circle cx="587.4" cy="811.3" r="1.4" fill="#d2401e"/><circle cx="509.8" cy="812.6" r="1.4" fill="#d2401e"/><circle cx="523.7" cy="812.9" r="1.4" fill="#d2401e"/><circle cx="553.4" cy="812.3" r="1.4" fill="#d2401e"/><circle cx="543.8" cy="811.2" r="1.4" fill="#d2401e"/><circle cx="506.9" cy="812.8" r="1.4" fill="#d2401e"/><circle cx="474.2" cy="815.3" r="1.4" fill="#d2401e"/><circle cx="542.1" cy="811.9" r="1.4" fill="#d2401e"/><circle cx="568.7" cy="812.5" r="1.4" fill="#d2401e"/><circle cx="570.7" cy="812.5" r="1.4" fill="#d2401e"/><circle cx="568.2" cy="811.5" r="1.4" fill="#d2401e"/><circle cx="505.8" cy="813.0" r="1.4" fill="#d2401e"/><circle cx="572.7" cy="811.9" r="1.4" fill="#d2401e"/><circle cx="580.0" cy="810.3" r="1.4" fill="#d2401e"/><circle cx="514.2" cy="812.6" r="1.4" fill="#d2401e"/><circle cx="566.5" cy="811.9" r="1.4" fill="#d2401e"/><circle cx="497.2" cy="814.8" r="1.4" fill="#d2401e"/><circle cx="501.1" cy="811.0" r="1.4" fill="#d2401e"/><circle cx="544.4" cy="812.7" r="1.4" fill="#d2401e"/><circle cx="498.0" cy="813.2" r="1.4" fill="#d2401e"/><circle cx="503.5" cy="814.6" r="1.4" fill="#d2401e"/><circle cx="527.3" cy="811.1" r="1.4" fill="#d2401e"/><circle cx="484.2" cy="814.2" r="1.4" fill="#d2401e"/><circle cx="501.0" cy="812.1" r="1.4" fill="#d2401e"/><circle cx="541.2" cy="811.0" r="1.4" fill="#d2401e"/><circle cx="534.5" cy="811.8" r="1.4" fill="#d2401e"/><circle cx="529.3" cy="813.1" r="1.4" fill="#d2401e"/><circle cx="496.3" cy="814.3" r="1.4" fill="#d2401e"/><circle cx="495.0" cy="814.4" r="1.4" fill="#d2401e"/><circle cx="539.5" cy="812.2" r="1.4" fill="#d2401e"/><circle cx="520.7" cy="813.3" r="1.4" fill="#d2401e"/><circle cx="479.2" cy="815.2" r="1.4" fill="#d2401e"/><circle cx="589.7" cy="811.8" r="1.4" fill="#d2401e"/><circle cx="547.4" cy="812.9" r="1.4" fill="#d2401e"/><circle cx="565.3" cy="811.8" r="1.4" fill="#d2401e"/><circle cx="514.0" cy="812.5" r="1.4" fill="#d2401e"/><circle cx="534.3" cy="813.4" r="1.4" fill="#d2401e"/><circle cx="588.9" cy="812.3" r="1.4" fill="#d2401e"/><circle cx="574.5" cy="810.7" r="1.4" fill="#d2401e"/><circle cx="504.3" cy="814.4" r="1.4" fill="#d2401e"/><circle cx="564.4" cy="809.5" r="1.4" fill="#d2401e"/><circle cx="563.0" cy="811.3" r="1.4" fill="#d2401e"/><circle cx="569.0" cy="811.7" r="1.4" fill="#d2401e"/><circle cx="478.4" cy="815.0" r="1.4" fill="#d2401e"/><circle cx="497.3" cy="814.5" r="1.4" fill="#d2401e"/><circle cx="479.9" cy="814.6" r="1.4" fill="#d2401e"/><circle cx="538.7" cy="812.5" r="1.4" fill="#d2401e"/><circle cx="583.9" cy="811.2" r="1.4" fill="#d2401e"/><circle cx="579.6" cy="810.6" r="1.4" fill="#d2401e"/><circle cx="520.1" cy="813.3" r="1.4" fill="#d2401e"/><circle cx="169.4" cy="821.5" r="1.4" fill="#d2401e"/><circle cx="207.4" cy="823.3" r="1.4" fill="#d2401e"/><circle cx="303.0" cy="820.8" r="1.4" fill="#d2401e"/><circle cx="340.3" cy="817.0" r="1.4" fill="#d2401e"/><circle cx="365.6" cy="820.5" r="1.4" fill="#d2401e"/><circle cx="369.1" cy="820.1" r="1.4" fill="#d2401e"/><circle cx="374.4" cy="819.8" r="1.4" fill="#d2401e"/><circle cx="382.5" cy="818.7" r="1.4" fill="#d2401e"/><circle cx="383.9" cy="819.8" r="1.4" fill="#d2401e"/><circle cx="390.2" cy="819.8" r="1.4" fill="#d2401e"/><circle cx="393.7" cy="819.1" r="1.4" fill="#d2401e"/><circle cx="399.0" cy="819.1" r="1.4" fill="#d2401e"/><circle cx="363.0" cy="820.1" r="1.4" fill="#d2401e"/><circle cx="369.0" cy="820.3" r="1.4" fill="#d2401e"/><circle cx="374.0" cy="820.0" r="1.4" fill="#d2401e"/><circle cx="383.0" cy="819.4" r="1.4" fill="#d2401e"/><circle cx="391.0" cy="819.6" r="1.4" fill="#d2401e"/><circle cx="386.0" cy="819.3" r="1.4" fill="#d2401e"/><circle cx="399.3" cy="788.1" r="1.4" fill="#d2401e"/><circle cx="445.3" cy="812.1" r="1.4" fill="#d2401e"/><circle cx="445.8" cy="811.9" r="1.4" fill="#d2401e"/><circle cx="470.8" cy="800.8" r="1.4" fill="#d2401e"/><circle cx="465.0" cy="813.3" r="1.4" fill="#d2401e"/><circle cx="491.0" cy="805.0" r="1.4" fill="#d2401e"/><circle cx="490.0" cy="809.2" r="1.4" fill="#d2401e"/><circle cx="496.7" cy="797.7" r="1.4" fill="#d2401e"/><circle cx="498.3" cy="807.1" r="1.4" fill="#d2401e"/><circle cx="503.5" cy="811.2" r="1.4" fill="#d2401e"/><circle cx="510.4" cy="801.9" r="1.4" fill="#d2401e"/><circle cx="509.8" cy="807.1" r="1.4" fill="#d2401e"/><circle cx="517.5" cy="784.2" r="1.4" fill="#d2401e"/><circle cx="523.3" cy="795.0" r="1.4" fill="#d2401e"/><circle cx="524.0" cy="798.7" r="1.4" fill="#d2401e"/><circle cx="524.4" cy="805.0" r="1.4" fill="#d2401e"/><circle cx="522.3" cy="810.2" r="1.4" fill="#d2401e"/><circle cx="531.2" cy="796.2" r="1.4" fill="#d2401e"/><circle cx="535.8" cy="795.2" r="1.4" fill="#d2401e"/><circle cx="532.7" cy="804.0" r="1.4" fill="#d2401e"/><circle cx="529.6" cy="808.1" r="1.4" fill="#d2401e"/><circle cx="539.0" cy="807.5" r="1.4" fill="#d2401e"/><circle cx="549.4" cy="797.1" r="1.4" fill="#d2401e"/><circle cx="550.0" cy="810.2" r="1.4" fill="#d2401e"/><circle cx="557.7" cy="781.0" r="1.4" fill="#d2401e"/><circle cx="562.9" cy="802.9" r="1.4" fill="#d2401e"/><circle cx="564.6" cy="801.9" r="1.4" fill="#d2401e"/><circle cx="556.7" cy="810.2" r="1.4" fill="#d2401e"/><circle cx="579.6" cy="799.8" r="1.4" fill="#d2401e"/><circle cx="584.2" cy="804.6" r="1.4" fill="#d2401e"/><circle cx="573.3" cy="810.2" r="1.4" fill="#d2401e"/><circle cx="569.2" cy="810.2" r="1.4" fill="#d2401e"/><circle cx="585.8" cy="811.2" r="1.4" fill="#d2401e"/><circle cx="516.0" cy="811.2" r="1.4" fill="#d2401e"/><circle cx="492.0" cy="811.2" r="1.4" fill="#d2401e"/><circle cx="575.1" cy="772.3" r="1.4" fill="#d2401e"/><circle cx="576.2" cy="778.3" r="1.4" fill="#d2401e"/><circle cx="425.8" cy="816.3" r="1.4" fill="#d2401e"/><circle cx="454.8" cy="816.3" r="1.4" fill="#d2401e"/><circle cx="401.7" cy="817.2" r="1.4" fill="#d2401e"/><line x1="168.5" y1="825.80" x2="590.3" y2="814.50" stroke="#d2401e" stroke-width="1.6"/><circle cx="159.4" cy="956.9" r="1.5" fill="#1d8030"/><circle cx="162.9" cy="954.5" r="1.5" fill="#1d8030"/><circle cx="163.5" cy="958.7" r="1.5" fill="#1d8030"/><circle cx="161.5" cy="954.0" r="1.5" fill="#1d8030"/><circle cx="162.0" cy="958.6" r="1.5" fill="#1d8030"/><circle cx="166.3" cy="960.7" r="1.5" fill="#1d8030"/><circle cx="160.2" cy="956.9" r="1.5" fill="#1d8030"/><circle cx="161.2" cy="955.5" r="1.5" fill="#1d8030"/><circle cx="165.6" cy="959.1" r="1.5" fill="#1d8030"/><circle cx="158.8" cy="952.2" r="1.5" fill="#1d8030"/><circle cx="164.7" cy="954.1" r="1.5" fill="#1d8030"/><circle cx="166.3" cy="951.4" r="1.5" fill="#1d8030"/><circle cx="158.8" cy="957.7" r="1.5" fill="#1d8030"/><circle cx="165.9" cy="958.4" r="1.5" fill="#1d8030"/><circle cx="163.8" cy="954.0" r="1.5" fill="#1d8030"/><circle cx="164.5" cy="958.3" r="1.5" fill="#1d8030"/><circle cx="159.2" cy="954.1" r="1.5" fill="#1d8030"/><circle cx="159.4" cy="956.8" r="1.5" fill="#1d8030"/><circle cx="162.3" cy="955.9" r="1.5" fill="#1d8030"/><circle cx="159.5" cy="956.7" r="1.5" fill="#1d8030"/><circle cx="163.8" cy="959.1" r="1.5" fill="#1d8030"/><circle cx="160.0" cy="955.3" r="1.5" fill="#1d8030"/><circle cx="158.7" cy="956.6" r="1.5" fill="#1d8030"/><circle cx="165.9" cy="954.2" r="1.5" fill="#1d8030"/><circle cx="165.3" cy="956.1" r="1.5" fill="#1d8030"/><circle cx="162.0" cy="954.1" r="1.5" fill="#1d8030"/><circle cx="159.2" cy="959.5" r="1.5" fill="#1d8030"/><circle cx="163.4" cy="952.8" r="1.5" fill="#1d8030"/><circle cx="162.0" cy="952.4" r="1.5" fill="#1d8030"/><circle cx="162.2" cy="959.1" r="1.5" fill="#1d8030"/><circle cx="163.4" cy="956.1" r="1.5" fill="#1d8030"/><circle cx="158.9" cy="956.4" r="1.5" fill="#1d8030"/><circle cx="164.1" cy="953.6" r="1.5" fill="#1d8030"/><circle cx="165.4" cy="954.5" r="1.5" fill="#1d8030"/><circle cx="160.5" cy="953.7" r="1.5" fill="#1d8030"/><circle cx="160.6" cy="955.8" r="1.5" fill="#1d8030"/><circle cx="165.1" cy="954.2" r="1.5" fill="#1d8030"/><circle cx="162.3" cy="956.4" r="1.5" fill="#1d8030"/><circle cx="160.9" cy="956.1" r="1.5" fill="#1d8030"/><circle cx="166.2" cy="954.3" r="1.5" fill="#1d8030"/><circle cx="158.9" cy="958.1" r="1.5" fill="#1d8030"/><circle cx="160.1" cy="952.6" r="1.5" fill="#1d8030"/><circle cx="162.2" cy="954.5" r="1.5" fill="#1d8030"/><circle cx="160.0" cy="957.0" r="1.5" fill="#1d8030"/><circle cx="161.3" cy="964.2" r="1.5" fill="#1d8030"/><circle cx="165.8" cy="954.5" r="1.5" fill="#1d8030"/><circle cx="159.2" cy="953.6" r="1.5" fill="#1d8030"/><circle cx="158.9" cy="960.4" r="1.5" fill="#1d8030"/><circle cx="164.2" cy="953.1" r="1.5" fill="#1d8030"/><circle cx="158.5" cy="961.9" r="1.5" fill="#1d8030"/><circle cx="164.9" cy="954.2" r="1.5" fill="#1d8030"/><circle cx="158.4" cy="956.2" r="1.5" fill="#1d8030"/><circle cx="165.1" cy="953.4" r="1.5" fill="#1d8030"/><circle cx="161.9" cy="954.7" r="1.5" fill="#1d8030"/><circle cx="165.7" cy="955.7" r="1.5" fill="#1d8030"/><circle cx="159.5" cy="958.3" r="1.5" fill="#1d8030"/><circle cx="159.8" cy="955.5" r="1.5" fill="#1d8030"/><circle cx="160.0" cy="950.9" r="1.5" fill="#1d8030"/><circle cx="159.0" cy="958.0" r="1.5" fill="#1d8030"/><circle cx="162.4" cy="956.9" r="1.5" fill="#1d8030"/><circle cx="160.6" cy="956.0" r="1.5" fill="#1d8030"/><circle cx="164.1" cy="958.4" r="1.5" fill="#1d8030"/><circle cx="164.9" cy="953.5" r="1.5" fill="#1d8030"/><circle cx="158.9" cy="954.1" r="1.5" fill="#1d8030"/><circle cx="164.3" cy="951.5" r="1.5" fill="#1d8030"/><circle cx="158.8" cy="957.3" r="1.5" fill="#1d8030"/><circle cx="164.9" cy="952.5" r="1.5" fill="#1d8030"/><circle cx="165.3" cy="959.3" r="1.5" fill="#1d8030"/><circle cx="162.3" cy="960.7" r="1.5" fill="#1d8030"/><circle cx="162.2" cy="955.6" r="1.5" fill="#1d8030"/><circle cx="165.4" cy="954.8" r="1.5" fill="#1d8030"/><circle cx="165.1" cy="956.7" r="1.5" fill="#1d8030"/><circle cx="161.3" cy="956.3" r="1.5" fill="#1d8030"/><circle cx="163.2" cy="957.1" r="1.5" fill="#1d8030"/><circle cx="158.4" cy="952.2" r="1.5" fill="#1d8030"/><circle cx="162.5" cy="954.6" r="1.5" fill="#1d8030"/><circle cx="159.4" cy="953.9" r="1.5" fill="#1d8030"/><circle cx="165.3" cy="950.3" r="1.5" fill="#1d8030"/><circle cx="161.0" cy="954.4" r="1.5" fill="#1d8030"/><circle cx="164.4" cy="952.5" r="1.5" fill="#1d8030"/><circle cx="158.9" cy="959.5" r="1.5" fill="#1d8030"/><circle cx="162.4" cy="950.4" r="1.5" fill="#1d8030"/><circle cx="162.5" cy="951.8" r="1.5" fill="#1d8030"/><circle cx="158.6" cy="954.4" r="1.5" fill="#1d8030"/><circle cx="166.1" cy="955.3" r="1.5" fill="#1d8030"/><circle cx="159.2" cy="956.6" r="1.5" fill="#1d8030"/><circle cx="160.4" cy="955.3" r="1.5" fill="#1d8030"/><circle cx="159.2" cy="954.4" r="1.5" fill="#1d8030"/><circle cx="164.0" cy="955.2" r="1.5" fill="#1d8030"/><circle cx="163.2" cy="955.5" r="1.5" fill="#1d8030"/><circle cx="163.0" cy="951.0" r="1.5" fill="#1d8030"/><circle cx="159.2" cy="954.4" r="1.5" fill="#1d8030"/><circle cx="165.4" cy="954.8" r="1.5" fill="#1d8030"/><circle cx="159.4" cy="954.2" r="1.5" fill="#1d8030"/><circle cx="162.3" cy="952.9" r="1.5" fill="#1d8030"/><circle cx="159.4" cy="955.0" r="1.5" fill="#1d8030"/><circle cx="161.6" cy="957.3" r="1.5" fill="#1d8030"/><circle cx="165.3" cy="957.6" r="1.5" fill="#1d8030"/><circle cx="159.6" cy="951.1" r="1.5" fill="#1d8030"/><circle cx="159.7" cy="953.1" r="1.5" fill="#1d8030"/><circle cx="165.0" cy="957.4" r="1.5" fill="#1d8030"/><circle cx="161.8" cy="954.0" r="1.5" fill="#1d8030"/><circle cx="165.1" cy="952.4" r="1.5" fill="#1d8030"/><circle cx="165.9" cy="954.6" r="1.5" fill="#1d8030"/><circle cx="164.6" cy="954.0" r="1.5" fill="#1d8030"/><circle cx="161.1" cy="956.6" r="1.5" fill="#1d8030"/><circle cx="161.9" cy="959.7" r="1.5" fill="#1d8030"/><circle cx="165.7" cy="954.4" r="1.5" fill="#1d8030"/><circle cx="164.9" cy="955.5" r="1.5" fill="#1d8030"/><circle cx="162.5" cy="954.3" r="1.5" fill="#1d8030"/><circle cx="166.1" cy="956.8" r="1.5" fill="#1d8030"/><circle cx="161.8" cy="954.2" r="1.5" fill="#1d8030"/><circle cx="163.5" cy="952.9" r="1.5" fill="#1d8030"/><circle cx="159.0" cy="957.4" r="1.5" fill="#1d8030"/><circle cx="161.9" cy="954.5" r="1.5" fill="#1d8030"/><circle cx="159.5" cy="955.0" r="1.5" fill="#1d8030"/><circle cx="166.2" cy="956.0" r="1.5" fill="#1d8030"/><circle cx="163.5" cy="949.0" r="1.5" fill="#1d8030"/><circle cx="164.9" cy="959.0" r="1.5" fill="#1d8030"/><circle cx="158.7" cy="951.4" r="1.5" fill="#1d8030"/><circle cx="163.5" cy="954.6" r="1.5" fill="#1d8030"/><circle cx="160.6" cy="958.9" r="1.5" fill="#1d8030"/><circle cx="162.7" cy="958.2" r="1.5" fill="#1d8030"/><circle cx="160.4" cy="953.3" r="1.5" fill="#1d8030"/><circle cx="162.6" cy="949.2" r="1.5" fill="#1d8030"/><circle cx="160.7" cy="957.6" r="1.5" fill="#1d8030"/><circle cx="160.8" cy="954.2" r="1.5" fill="#1d8030"/><circle cx="163.2" cy="953.9" r="1.5" fill="#1d8030"/><circle cx="166.0" cy="953.0" r="1.5" fill="#1d8030"/><circle cx="162.1" cy="954.8" r="1.5" fill="#1d8030"/><circle cx="162.7" cy="955.8" r="1.5" fill="#1d8030"/><circle cx="159.5" cy="956.1" r="1.5" fill="#1d8030"/><circle cx="160.7" cy="953.2" r="1.5" fill="#1d8030"/><circle cx="160.3" cy="956.2" r="1.5" fill="#1d8030"/><circle cx="159.1" cy="950.2" r="1.5" fill="#1d8030"/><circle cx="163.3" cy="953.6" r="1.5" fill="#1d8030"/><circle cx="163.0" cy="954.0" r="1.5" fill="#1d8030"/><circle cx="164.1" cy="953.6" r="1.5" fill="#1d8030"/><circle cx="162.1" cy="951.6" r="1.5" fill="#1d8030"/><circle cx="162.2" cy="953.9" r="1.5" fill="#1d8030"/><circle cx="160.9" cy="955.1" r="1.5" fill="#1d8030"/><circle cx="162.5" cy="956.8" r="1.5" fill="#1d8030"/><circle cx="161.5" cy="954.7" r="1.5" fill="#1d8030"/><circle cx="161.2" cy="954.8" r="1.5" fill="#1d8030"/><circle cx="165.3" cy="955.2" r="1.5" fill="#1d8030"/><circle cx="162.3" cy="958.3" r="1.5" fill="#1d8030"/><circle cx="160.7" cy="957.2" r="1.5" fill="#1d8030"/><circle cx="164.6" cy="954.8" r="1.5" fill="#1d8030"/><circle cx="159.7" cy="959.8" r="1.5" fill="#1d8030"/><circle cx="161.9" cy="957.1" r="1.5" fill="#1d8030"/><circle cx="158.9" cy="952.9" r="1.5" fill="#1d8030"/><circle cx="164.3" cy="956.8" r="1.5" fill="#1d8030"/><circle cx="159.3" cy="956.0" r="1.5" fill="#1d8030"/><circle cx="164.3" cy="961.5" r="1.5" fill="#1d8030"/><circle cx="159.6" cy="953.7" r="1.5" fill="#1d8030"/><circle cx="163.8" cy="957.1" r="1.5" fill="#1d8030"/><circle cx="163.3" cy="957.8" r="1.5" fill="#1d8030"/><circle cx="162.5" cy="951.1" r="1.5" fill="#1d8030"/><circle cx="164.3" cy="954.8" r="1.5" fill="#1d8030"/><circle cx="162.2" cy="950.6" r="1.5" fill="#1d8030"/><circle cx="164.7" cy="953.5" r="1.5" fill="#1d8030"/><circle cx="159.4" cy="949.4" r="1.5" fill="#1d8030"/><circle cx="165.4" cy="959.4" r="1.5" fill="#1d8030"/><circle cx="163.1" cy="955.1" r="1.5" fill="#1d8030"/><circle cx="162.4" cy="958.3" r="1.5" fill="#1d8030"/><circle cx="161.7" cy="954.2" r="1.5" fill="#1d8030"/><circle cx="164.7" cy="957.5" r="1.5" fill="#1d8030"/><circle cx="161.4" cy="952.5" r="1.5" fill="#1d8030"/><circle cx="162.0" cy="951.0" r="1.5" fill="#1d8030"/><circle cx="160.7" cy="956.1" r="1.5" fill="#1d8030"/><circle cx="161.5" cy="952.6" r="1.5" fill="#1d8030"/><circle cx="161.0" cy="954.1" r="1.5" fill="#1d8030"/><circle cx="164.7" cy="956.8" r="1.5" fill="#1d8030"/><circle cx="162.0" cy="952.5" r="1.5" fill="#1d8030"/><circle cx="159.9" cy="954.5" r="1.5" fill="#1d8030"/><circle cx="163.0" cy="956.4" r="1.5" fill="#1d8030"/><circle cx="163.1" cy="960.0" r="1.5" fill="#1d8030"/><circle cx="161.0" cy="958.1" r="1.5" fill="#1d8030"/><circle cx="165.1" cy="958.5" r="1.5" fill="#1d8030"/><circle cx="160.0" cy="949.4" r="1.5" fill="#1d8030"/><circle cx="161.8" cy="955.3" r="1.5" fill="#1d8030"/><circle cx="158.8" cy="954.8" r="1.5" fill="#1d8030"/><circle cx="162.9" cy="949.2" r="1.5" fill="#1d8030"/><circle cx="164.6" cy="955.1" r="1.5" fill="#1d8030"/><circle cx="162.7" cy="958.1" r="1.5" fill="#1d8030"/><circle cx="162.5" cy="955.0" r="1.5" fill="#1d8030"/><circle cx="163.9" cy="953.1" r="1.5" fill="#1d8030"/><circle cx="163.2" cy="956.6" r="1.5" fill="#1d8030"/><circle cx="161.2" cy="958.7" r="1.5" fill="#1d8030"/><circle cx="162.6" cy="953.7" r="1.5" fill="#1d8030"/><circle cx="159.2" cy="953.1" r="1.5" fill="#1d8030"/><circle cx="162.9" cy="956.9" r="1.5" fill="#1d8030"/><circle cx="163.0" cy="959.9" r="1.5" fill="#1d8030"/><circle cx="162.3" cy="950.4" r="1.5" fill="#1d8030"/><circle cx="161.9" cy="948.9" r="1.5" fill="#1d8030"/><circle cx="161.1" cy="948.9" r="1.5" fill="#1d8030"/><circle cx="162.6" cy="955.6" r="1.5" fill="#1d8030"/><circle cx="160.9" cy="953.5" r="1.5" fill="#1d8030"/><circle cx="166.2" cy="956.4" r="1.5" fill="#1d8030"/><circle cx="159.3" cy="952.2" r="1.5" fill="#1d8030"/><circle cx="177.5" cy="954.8" r="1.5" fill="#1d8030"/><circle cx="178.9" cy="952.9" r="1.5" fill="#1d8030"/><circle cx="177.4" cy="955.1" r="1.5" fill="#1d8030"/><circle cx="169.1" cy="956.5" r="1.5" fill="#1d8030"/><circle cx="172.2" cy="954.8" r="1.5" fill="#1d8030"/><circle cx="167.6" cy="956.0" r="1.5" fill="#1d8030"/><circle cx="173.8" cy="954.7" r="1.5" fill="#1d8030"/><circle cx="178.9" cy="955.0" r="1.5" fill="#1d8030"/><circle cx="173.9" cy="957.8" r="1.5" fill="#1d8030"/><circle cx="176.0" cy="956.5" r="1.5" fill="#1d8030"/><circle cx="169.3" cy="955.9" r="1.5" fill="#1d8030"/><circle cx="169.3" cy="955.9" r="1.5" fill="#1d8030"/><circle cx="176.8" cy="953.7" r="1.5" fill="#1d8030"/><circle cx="167.8" cy="954.6" r="1.5" fill="#1d8030"/><circle cx="172.0" cy="954.7" r="1.5" fill="#1d8030"/><circle cx="174.1" cy="955.5" r="1.5" fill="#1d8030"/><circle cx="172.4" cy="958.4" r="1.5" fill="#1d8030"/><circle cx="170.8" cy="956.0" r="1.5" fill="#1d8030"/><circle cx="166.7" cy="957.7" r="1.5" fill="#1d8030"/><circle cx="166.5" cy="958.5" r="1.5" fill="#1d8030"/><circle cx="166.4" cy="957.0" r="1.5" fill="#1d8030"/><circle cx="176.5" cy="957.9" r="1.5" fill="#1d8030"/><circle cx="173.6" cy="956.2" r="1.5" fill="#1d8030"/><circle cx="165.2" cy="955.4" r="1.5" fill="#1d8030"/><circle cx="175.8" cy="954.7" r="1.5" fill="#1d8030"/><circle cx="170.0" cy="958.6" r="1.5" fill="#1d8030"/><circle cx="167.4" cy="955.9" r="1.5" fill="#1d8030"/><circle cx="177.7" cy="956.8" r="1.5" fill="#1d8030"/><circle cx="173.2" cy="954.9" r="1.5" fill="#1d8030"/><circle cx="170.4" cy="957.6" r="1.5" fill="#1d8030"/><circle cx="165.8" cy="957.8" r="1.5" fill="#1d8030"/><circle cx="178.4" cy="954.5" r="1.5" fill="#1d8030"/><circle cx="171.2" cy="955.0" r="1.5" fill="#1d8030"/><circle cx="165.6" cy="955.1" r="1.5" fill="#1d8030"/><circle cx="178.0" cy="957.0" r="1.5" fill="#1d8030"/><circle cx="177.6" cy="954.8" r="1.5" fill="#1d8030"/><circle cx="176.4" cy="955.2" r="1.5" fill="#1d8030"/><circle cx="178.4" cy="958.3" r="1.5" fill="#1d8030"/><circle cx="171.9" cy="957.3" r="1.5" fill="#1d8030"/><circle cx="170.5" cy="955.6" r="1.5" fill="#1d8030"/><circle cx="175.1" cy="956.3" r="1.5" fill="#1d8030"/><circle cx="177.3" cy="957.5" r="1.5" fill="#1d8030"/><circle cx="171.8" cy="956.4" r="1.5" fill="#1d8030"/><circle cx="167.4" cy="954.7" r="1.5" fill="#1d8030"/><circle cx="170.0" cy="957.9" r="1.5" fill="#1d8030"/><circle cx="169.1" cy="960.4" r="1.5" fill="#1d8030"/><circle cx="172.9" cy="957.7" r="1.5" fill="#1d8030"/><circle cx="170.4" cy="957.5" r="1.5" fill="#1d8030"/><circle cx="170.6" cy="956.8" r="1.5" fill="#1d8030"/><circle cx="176.6" cy="956.4" r="1.5" fill="#1d8030"/><circle cx="169.9" cy="956.0" r="1.5" fill="#1d8030"/><circle cx="169.0" cy="957.2" r="1.5" fill="#1d8030"/><circle cx="168.3" cy="958.6" r="1.5" fill="#1d8030"/><circle cx="169.8" cy="956.6" r="1.5" fill="#1d8030"/><circle cx="167.2" cy="955.8" r="1.5" fill="#1d8030"/><circle cx="168.8" cy="955.2" r="1.5" fill="#1d8030"/><circle cx="176.7" cy="957.4" r="1.5" fill="#1d8030"/><circle cx="176.7" cy="957.4" r="1.5" fill="#1d8030"/><circle cx="176.3" cy="956.9" r="1.5" fill="#1d8030"/><circle cx="175.1" cy="957.4" r="1.5" fill="#1d8030"/><circle cx="170.3" cy="957.2" r="1.5" fill="#1d8030"/><circle cx="178.3" cy="955.7" r="1.5" fill="#1d8030"/><circle cx="172.1" cy="956.3" r="1.5" fill="#1d8030"/><circle cx="166.8" cy="958.0" r="1.5" fill="#1d8030"/><circle cx="174.9" cy="955.7" r="1.5" fill="#1d8030"/><circle cx="173.2" cy="959.9" r="1.5" fill="#1d8030"/><circle cx="170.2" cy="956.1" r="1.5" fill="#1d8030"/><circle cx="168.0" cy="958.5" r="1.5" fill="#1d8030"/><circle cx="177.2" cy="957.5" r="1.5" fill="#1d8030"/><circle cx="172.6" cy="957.5" r="1.5" fill="#1d8030"/><circle cx="168.8" cy="956.2" r="1.5" fill="#1d8030"/><circle cx="174.2" cy="954.2" r="1.5" fill="#1d8030"/><circle cx="172.9" cy="955.3" r="1.5" fill="#1d8030"/><circle cx="166.2" cy="957.7" r="1.5" fill="#1d8030"/><circle cx="167.5" cy="956.9" r="1.5" fill="#1d8030"/><circle cx="174.3" cy="954.7" r="1.5" fill="#1d8030"/><circle cx="166.5" cy="954.4" r="1.5" fill="#1d8030"/><circle cx="172.0" cy="955.4" r="1.5" fill="#1d8030"/><circle cx="169.2" cy="957.4" r="1.5" fill="#1d8030"/><circle cx="168.2" cy="956.6" r="1.5" fill="#1d8030"/><circle cx="166.8" cy="955.7" r="1.5" fill="#1d8030"/><circle cx="170.6" cy="954.6" r="1.5" fill="#1d8030"/><circle cx="177.7" cy="956.6" r="1.5" fill="#1d8030"/><circle cx="177.1" cy="952.3" r="1.5" fill="#1d8030"/><circle cx="166.9" cy="955.9" r="1.5" fill="#1d8030"/><circle cx="174.5" cy="956.4" r="1.5" fill="#1d8030"/><circle cx="174.3" cy="954.9" r="1.5" fill="#1d8030"/><circle cx="174.2" cy="957.5" r="1.5" fill="#1d8030"/><circle cx="174.8" cy="956.0" r="1.5" fill="#1d8030"/><circle cx="169.9" cy="959.5" r="1.5" fill="#1d8030"/><circle cx="173.8" cy="956.4" r="1.5" fill="#1d8030"/><circle cx="177.8" cy="956.8" r="1.5" fill="#1d8030"/><circle cx="175.3" cy="955.9" r="1.5" fill="#1d8030"/><circle cx="165.6" cy="955.5" r="1.5" fill="#1d8030"/><circle cx="167.3" cy="956.5" r="1.5" fill="#1d8030"/><circle cx="170.3" cy="957.4" r="1.5" fill="#1d8030"/><circle cx="165.5" cy="955.0" r="1.5" fill="#1d8030"/><circle cx="167.5" cy="958.4" r="1.5" fill="#1d8030"/><circle cx="176.8" cy="953.4" r="1.5" fill="#1d8030"/><circle cx="168.6" cy="954.8" r="1.5" fill="#1d8030"/><circle cx="171.1" cy="955.3" r="1.5" fill="#1d8030"/><circle cx="165.0" cy="954.5" r="1.5" fill="#1d8030"/><circle cx="176.7" cy="956.2" r="1.5" fill="#1d8030"/><circle cx="165.6" cy="954.5" r="1.5" fill="#1d8030"/><circle cx="177.0" cy="955.6" r="1.5" fill="#1d8030"/><circle cx="168.4" cy="955.6" r="1.5" fill="#1d8030"/><circle cx="166.6" cy="956.3" r="1.5" fill="#1d8030"/><circle cx="177.8" cy="954.8" r="1.5" fill="#1d8030"/><circle cx="175.5" cy="958.4" r="1.5" fill="#1d8030"/><circle cx="170.5" cy="957.4" r="1.5" fill="#1d8030"/><circle cx="175.5" cy="956.7" r="1.5" fill="#1d8030"/><circle cx="166.3" cy="954.7" r="1.5" fill="#1d8030"/><circle cx="178.2" cy="952.3" r="1.5" fill="#1d8030"/><circle cx="174.7" cy="957.9" r="1.5" fill="#1d8030"/><circle cx="175.3" cy="957.2" r="1.5" fill="#1d8030"/><circle cx="171.3" cy="953.8" r="1.5" fill="#1d8030"/><circle cx="165.8" cy="955.4" r="1.5" fill="#1d8030"/><circle cx="172.2" cy="954.2" r="1.5" fill="#1d8030"/><circle cx="178.0" cy="958.1" r="1.5" fill="#1d8030"/><circle cx="165.6" cy="958.2" r="1.5" fill="#1d8030"/><circle cx="174.8" cy="956.5" r="1.5" fill="#1d8030"/><circle cx="172.6" cy="954.7" r="1.5" fill="#1d8030"/><circle cx="178.6" cy="954.5" r="1.5" fill="#1d8030"/><circle cx="168.5" cy="954.3" r="1.5" fill="#1d8030"/><circle cx="165.8" cy="954.8" r="1.5" fill="#1d8030"/><circle cx="167.8" cy="957.4" r="1.5" fill="#1d8030"/><circle cx="169.3" cy="957.8" r="1.5" fill="#1d8030"/><circle cx="174.4" cy="958.1" r="1.5" fill="#1d8030"/><circle cx="168.3" cy="956.1" r="1.5" fill="#1d8030"/><circle cx="171.2" cy="958.2" r="1.5" fill="#1d8030"/><circle cx="178.1" cy="955.1" r="1.5" fill="#1d8030"/><circle cx="177.4" cy="957.2" r="1.5" fill="#1d8030"/><circle cx="167.0" cy="954.5" r="1.5" fill="#1d8030"/><circle cx="176.4" cy="955.4" r="1.5" fill="#1d8030"/><circle cx="172.7" cy="956.1" r="1.5" fill="#1d8030"/><circle cx="174.3" cy="954.9" r="1.5" fill="#1d8030"/><circle cx="173.4" cy="953.0" r="1.5" fill="#1d8030"/><circle cx="176.6" cy="956.7" r="1.5" fill="#1d8030"/><circle cx="166.6" cy="955.6" r="1.5" fill="#1d8030"/><circle cx="167.9" cy="957.7" r="1.5" fill="#1d8030"/><circle cx="165.8" cy="955.8" r="1.5" fill="#1d8030"/><circle cx="174.8" cy="957.2" r="1.5" fill="#1d8030"/><circle cx="171.3" cy="957.2" r="1.5" fill="#1d8030"/><circle cx="171.6" cy="957.0" r="1.5" fill="#1d8030"/><circle cx="170.1" cy="956.3" r="1.5" fill="#1d8030"/><circle cx="165.2" cy="956.6" r="1.5" fill="#1d8030"/><circle cx="178.9" cy="956.0" r="1.5" fill="#1d8030"/><circle cx="175.0" cy="955.2" r="1.5" fill="#1d8030"/><circle cx="178.7" cy="955.2" r="1.5" fill="#1d8030"/><circle cx="171.8" cy="955.7" r="1.5" fill="#1d8030"/><circle cx="171.1" cy="956.8" r="1.5" fill="#1d8030"/><circle cx="165.1" cy="958.1" r="1.5" fill="#1d8030"/><circle cx="177.9" cy="954.4" r="1.5" fill="#1d8030"/><circle cx="178.1" cy="954.0" r="1.5" fill="#1d8030"/><circle cx="174.1" cy="956.0" r="1.5" fill="#1d8030"/><circle cx="166.9" cy="957.4" r="1.5" fill="#1d8030"/><circle cx="165.4" cy="956.5" r="1.5" fill="#1d8030"/><circle cx="169.1" cy="952.6" r="1.5" fill="#1d8030"/><circle cx="167.6" cy="953.7" r="1.5" fill="#1d8030"/><circle cx="178.0" cy="953.3" r="1.5" fill="#1d8030"/><circle cx="167.4" cy="956.7" r="1.5" fill="#1d8030"/><circle cx="175.4" cy="952.7" r="1.5" fill="#1d8030"/><circle cx="169.6" cy="957.3" r="1.5" fill="#1d8030"/><circle cx="169.5" cy="959.1" r="1.5" fill="#1d8030"/><circle cx="170.2" cy="954.4" r="1.5" fill="#1d8030"/><circle cx="176.6" cy="955.5" r="1.5" fill="#1d8030"/><circle cx="168.4" cy="958.3" r="1.5" fill="#1d8030"/><circle cx="173.8" cy="956.6" r="1.5" fill="#1d8030"/><circle cx="176.5" cy="954.9" r="1.5" fill="#1d8030"/><circle cx="178.2" cy="952.2" r="1.5" fill="#1d8030"/><circle cx="183.4" cy="955.6" r="1.5" fill="#1d8030"/><circle cx="181.7" cy="956.5" r="1.5" fill="#1d8030"/><circle cx="184.2" cy="958.5" r="1.5" fill="#1d8030"/><circle cx="180.5" cy="957.6" r="1.5" fill="#1d8030"/><circle cx="183.0" cy="957.1" r="1.5" fill="#1d8030"/><circle cx="179.4" cy="956.4" r="1.5" fill="#1d8030"/><circle cx="183.0" cy="957.4" r="1.5" fill="#1d8030"/><circle cx="179.0" cy="958.7" r="1.5" fill="#1d8030"/><circle cx="186.6" cy="958.1" r="1.5" fill="#1d8030"/><circle cx="182.8" cy="954.4" r="1.5" fill="#1d8030"/><circle cx="181.5" cy="955.5" r="1.5" fill="#1d8030"/><circle cx="182.8" cy="955.0" r="1.5" fill="#1d8030"/><circle cx="182.0" cy="954.4" r="1.5" fill="#1d8030"/><circle cx="186.4" cy="957.3" r="1.5" fill="#1d8030"/><circle cx="187.1" cy="957.1" r="1.5" fill="#1d8030"/><circle cx="183.0" cy="957.6" r="1.5" fill="#1d8030"/><circle cx="184.1" cy="955.9" r="1.5" fill="#1d8030"/><circle cx="179.8" cy="957.3" r="1.5" fill="#1d8030"/><circle cx="181.9" cy="952.6" r="1.5" fill="#1d8030"/><circle cx="187.2" cy="957.5" r="1.5" fill="#1d8030"/><circle cx="186.8" cy="960.3" r="1.5" fill="#1d8030"/><circle cx="184.6" cy="955.9" r="1.5" fill="#1d8030"/><circle cx="186.3" cy="958.6" r="1.5" fill="#1d8030"/><circle cx="184.5" cy="957.3" r="1.5" fill="#1d8030"/><circle cx="181.7" cy="953.2" r="1.5" fill="#1d8030"/><circle cx="183.3" cy="954.9" r="1.5" fill="#1d8030"/><circle cx="184.8" cy="956.1" r="1.5" fill="#1d8030"/><circle cx="187.0" cy="957.8" r="1.5" fill="#1d8030"/><circle cx="179.3" cy="957.3" r="1.5" fill="#1d8030"/><circle cx="183.0" cy="958.6" r="1.5" fill="#1d8030"/><circle cx="170.2" cy="935.2" r="1.5" fill="#1d8030"/><circle cx="173.9" cy="941.7" r="1.5" fill="#1d8030"/><circle cx="170.4" cy="946.9" r="1.5" fill="#1d8030"/><circle cx="173.9" cy="949.5" r="1.5" fill="#1d8030"/><circle cx="175.2" cy="950.3" r="1.5" fill="#1d8030"/><circle cx="185.0" cy="946.3" r="1.5" fill="#1d8030"/><circle cx="181.7" cy="949.5" r="1.5" fill="#1d8030"/><circle cx="180.4" cy="951.5" r="1.5" fill="#1d8030"/><circle cx="183.0" cy="954.1" r="1.5" fill="#1d8030"/><circle cx="186.2" cy="958.0" r="1.5" fill="#1d8030"/><circle cx="190.2" cy="953.4" r="1.5" fill="#1d8030"/><circle cx="191.5" cy="954.1" r="1.5" fill="#1d8030"/><circle cx="192.8" cy="954.1" r="1.5" fill="#1d8030"/><circle cx="190.8" cy="961.9" r="1.5" fill="#1d8030"/><circle cx="195.4" cy="960.6" r="1.5" fill="#1d8030"/><circle cx="196.7" cy="956.0" r="1.5" fill="#1d8030"/><circle cx="198.0" cy="952.1" r="1.5" fill="#1d8030"/><circle cx="199.3" cy="954.1" r="1.5" fill="#1d8030"/><circle cx="199.9" cy="955.4" r="1.5" fill="#1d8030"/><circle cx="199.3" cy="936.8" r="1.5" fill="#1d8030"/><circle cx="203.8" cy="950.2" r="1.5" fill="#1d8030"/><circle cx="204.4" cy="951.5" r="1.5" fill="#1d8030"/><circle cx="205.1" cy="958.0" r="1.5" fill="#1d8030"/><circle cx="205.5" cy="939.8" r="1.5" fill="#1d8030"/><circle cx="207.7" cy="954.7" r="1.5" fill="#1d8030"/><circle cx="211.0" cy="950.8" r="1.5" fill="#1d8030"/><circle cx="211.4" cy="940.4" r="1.5" fill="#1d8030"/><circle cx="212.9" cy="954.1" r="1.5" fill="#1d8030"/><circle cx="214.2" cy="952.8" r="1.5" fill="#1d8030"/><circle cx="223.0" cy="949.5" r="1.5" fill="#1d8030"/><circle cx="224.0" cy="946.9" r="1.5" fill="#1d8030"/><circle cx="224.9" cy="944.6" r="1.5" fill="#1d8030"/><circle cx="227.3" cy="956.7" r="1.5" fill="#1d8030"/><circle cx="228.6" cy="949.5" r="1.5" fill="#1d8030"/><circle cx="229.2" cy="952.1" r="1.5" fill="#1d8030"/><circle cx="229.9" cy="953.4" r="1.5" fill="#1d8030"/><circle cx="232.5" cy="958.0" r="1.5" fill="#1d8030"/><circle cx="233.1" cy="954.1" r="1.5" fill="#1d8030"/><circle cx="234.4" cy="948.2" r="1.5" fill="#1d8030"/><circle cx="235.7" cy="950.2" r="1.5" fill="#1d8030"/><circle cx="240.3" cy="955.4" r="1.5" fill="#1d8030"/><circle cx="244.2" cy="943.0" r="1.5" fill="#1d8030"/><circle cx="244.5" cy="946.3" r="1.5" fill="#1d8030"/><circle cx="232.0" cy="918.3" r="1.5" fill="#1d8030"/><circle cx="236.5" cy="928.1" r="1.5" fill="#1d8030"/><circle cx="257.3" cy="942.9" r="1.5" fill="#1d8030"/><circle cx="257.3" cy="944.5" r="1.5" fill="#1d8030"/><circle cx="260.1" cy="952.7" r="1.5" fill="#1d8030"/><circle cx="267.8" cy="935.2" r="1.5" fill="#1d8030"/><circle cx="277.7" cy="935.9" r="1.5" fill="#1d8030"/><circle cx="279.4" cy="913.0" r="1.5" fill="#1d8030"/><circle cx="285.8" cy="921.1" r="1.5" fill="#1d8030"/><circle cx="285.8" cy="953.8" r="1.5" fill="#1d8030"/><circle cx="274.9" cy="953.8" r="1.5" fill="#1d8030"/><circle cx="291.0" cy="948.2" r="1.5" fill="#1d8030"/><circle cx="298.1" cy="936.9" r="1.5" fill="#1d8030"/><circle cx="310.0" cy="941.5" r="1.5" fill="#1d8030"/><circle cx="317.1" cy="923.9" r="1.5" fill="#1d8030"/><circle cx="377.9" cy="938.7" r="1.5" fill="#1d8030"/><circle cx="224.2" cy="945.0" r="1.5" fill="#1d8030"/><circle cx="228.5" cy="956.3" r="1.5" fill="#1d8030"/><circle cx="235.5" cy="956.3" r="1.5" fill="#1d8030"/></svg>
<div class="t h1" style="top:16.35px;font-size:14.0px;font-weight:bold;letter-spacing:0.1px;left:282.00px;">Informe del Probador de Estrategias</div>
<div class="t h2" style="top:37.09px;font-size:9.7px;font-weight:bold;letter-spacing:0.345px;left:311.90px;">Pepperstone-MT5-Live01 (Build 5327)</div>
<div class="t h2" style="top:66.56px;font-size:9.5px;font-weight:bold;letter-spacing:0.1px;left:370.50px;">Configuración</div>
<div class="t l" style="top:96.80px;font-size:8.5px;right:612.60px;transform:scaleX(0.882);transform-origin:100% 0;">Símbolo:</div>
<div class="t v" style="top:96.97px;font-size:8.3px;font-weight:bold;letter-spacing:-0.257px;left:160.90px;">XAUUSD-test</div>
<div class="t l" style="top:110.70px;font-size:8.5px;right:612.60px;transform:scaleX(0.882);transform-origin:100% 0;">Período:</div>
<div class="t v" style="top:110.87px;font-size:8.3px;font-weight:bold;letter-spacing:0.211px;left:160.90px;">H1 (2020.01.01 - 2025.10.13)</div>
<div class="t l" style="top:124.60px;font-size:8.5px;right:612.60px;transform:scaleX(0.882);transform-origin:100% 0;">Parámetros de entrada:</div>
<div class="t v" style="top:124.77px;font-size:8.3px;font-weight:bold;letter-spacing:-0.276px;left:160.90px;">Symbols=XAUUSD</div>
<div class="t l" style="top:138.30px;font-size:8.5px;right:643.00px;transform:scaleX(0.882);transform-origin:100% 0;">Empresa:</div>
<div class="t v" style="top:138.47px;font-size:8.3px;font-weight:bold;letter-spacing:-0.242px;left:130.30px;">Pepperstone Group Limited</div>
<div class="t l" style="top:152.00px;font-size:8.5px;right:643.00px;transform:scaleX(0.882);transform-origin:100% 0;">Divisa:</div>
<div class="t v" style="top:152.17px;font-size:8.3px;font-weight:bold;letter-spacing:-0.225px;left:130.30px;">beneficio en pips</div>
<div class="t l" style="top:166.00px;font-size:8.5px;right:643.00px;transform:scaleX(0.882);transform-origin:100% 0;">Depósito inicial:</div>
<div class="t v" style="top:166.17px;font-size:8.3px;font-weight:bold;letter-spacing:0.142px;left:130.30px;">2 100.00</div>
<div class="t l" style="top:179.90px;font-size:8.5px;right:643.00px;transform:scaleX(0.882);transform-origin:100% 0;">Apalancamiento:</div>
<div class="t v" style="top:180.07px;font-size:8.3px;font-weight:bold;letter-spacing:0.168px;left:130.30px;">1:200</div>
<div class="t h2" style="top:207.96px;font-size:9.5px;font-weight:bold;letter-spacing:0.1px;left:344.80px;">Resultados</div>
<div class="t l" style="top:224.20px;font-size:8.5px;right:643.00px;transform:scaleX(0.882);transform-origin:100% 0;">Calidad del historial:</div>
<div class="t v" style="top:224.37px;font-size:8.3px;font-weight:bold;letter-spacing:-0.016px;left:130.50px;">100% ticks reales</div>
<div class="t l" style="top:238.04px;font-size:8.5px;right:643.00px;transform:scaleX(0.882);transform-origin:100% 0;">Barras:</div>
<div class="t v" style="top:238.21px;font-size:8.3px;font-weight:bold;letter-spacing:0.255px;right:568.85px;">35887</div>
<div class="t l" style="top:238.04px;font-size:8.5px;right:362.20px;transform:scaleX(0.882);transform-origin:100% 0;">Ticks:</div>
<div class="t v" style="top:238.21px;font-size:8.3px;font-weight:bold;letter-spacing:0.213px;right:290.79px;">302651950</div>
<div class="t l" style="top:238.04px;font-size:8.5px;right:87.40px;transform:scaleX(0.882);transform-origin:100% 0;">Símbolos:</div>
<div class="t v" style="top:238.21px;font-size:8.3px;font-weight:bold;letter-spacing:0px;right:15.90px;">1</div>
<div class="t l" style="top:251.88px;font-size:8.5px;right:643.00px;transform:scaleX(0.882);transform-origin:100% 0;">Beneficio Neto:</div>
<div class="t v" style="top:252.05px;font-size:8.3px;font-weight:bold;letter-spacing:0.17px;right:568.93px;">4 360.01</div>
<div class="t l" style="top:251.88px;font-size:8.5px;right:362.20px;transform:scaleX(0.882);transform-origin:100% 0;">Reducción absoluta del balance:</div>
<div class="t v" style="top:252.05px;font-size:8.3px;font-weight:bold;letter-spacing:0.207px;right:290.79px;">82.36</div>
<div class="t l" style="top:251.88px;font-size:8.5px;right:87.40px;transform:scaleX(0.882);transform-origin:100% 0;">Reducción absoluta de la equidad:</div>
<div class="t v" style="top:252.05px;font-size:8.3px;font-weight:bold;letter-spacing:0.082px;right:15.82px;">96.58</div>
<div class="t l" style="top:265.72px;font-size:8.5px;right:643.00px;transform:scaleX(0.882);transform-origin:100% 0;">Beneficio Bruto:</div>
<div class="t v" style="top:265.89px;font-size:8.3px;font-weight:bold;letter-spacing:0.134px;right:568.97px;">10 835.73</div>
<div class="t l" style="top:265.72px;font-size:8.5px;right:362.20px;transform:scaleX(0.882);transform-origin:100% 0;">Reducción máxima del balance:</div>
<div class="t v" style="top:265.89px;font-size:8.3px;font-weight:bold;letter-spacing:0.365px;right:290.63px;">423.02 (8.15%)</div>
<div class="t l" style="top:265.72px;font-size:8.5px;right:87.40px;transform:scaleX(0.882);transform-origin:100% 0;">Reducción máxima de la equidad:</div>
<div class="t v" style="top:265.89px;font-size:8.3px;font-weight:bold;letter-spacing:0.345px;right:15.55px;">562.64 (10.59%)</div>
<div class="t l" style="top:279.56px;font-size:8.5px;right:643.00px;transform:scaleX(0.882);transform-origin:100% 0;">Pérdidas Brutas:</div>
<div class="t v" style="top:279.72px;font-size:8.3px;font-weight:bold;letter-spacing:0.166px;right:568.93px;">-6 475.72</div>
<div class="t l" style="top:279.56px;font-size:8.5px;right:362.20px;transform:scaleX(0.882);transform-origin:100% 0;">Reducción relativa del balance:</div>
<div class="t v" style="top:279.72px;font-size:8.3px;font-weight:bold;letter-spacing:0.323px;right:290.68px;">12.37% (326.65)</div>
<div class="t l" style="top:279.56px;font-size:8.5px;right:87.40px;transform:scaleX(0.882);transform-origin:100% 0;">Reducción relativa de la equidad:</div>
<div class="t v" style="top:279.72px;font-size:8.3px;font-weight:bold;letter-spacing:0.316px;right:15.58px;">14.74% (397.23)</div>
<div class="t l" style="top:307.23px;font-size:8.5px;right:643.00px;transform:scaleX(0.882);transform-origin:100% 0;">Factor de Beneficio:</div>
<div class="t v" style="top:307.40px;font-size:8.3px;font-weight:bold;letter-spacing:-0.052px;right:569.15px;">1.67</div>
<div class="t l" style="top:307.23px;font-size:8.5px;right:362.20px;transform:scaleX(0.882);transform-origin:100% 0;">Beneficio Esperado:</div>
<div class="t v" style="top:307.40px;font-size:8.3px;font-weight:bold;letter-spacing:0.115px;right:290.88px;">9.54</div>
<div class="t l" style="top:307.23px;font-size:8.5px;right:87.40px;transform:scaleX(0.882);transform-origin:100% 0;">Nivel de margen:</div>
<div class="t v" style="top:307.40px;font-size:8.3px;font-weight:bold;letter-spacing:0.317px;right:15.58px;">1699775.00%</div>
<div class="t l" style="top:321.07px;font-size:8.5px;right:643.00px;transform:scaleX(0.882);transform-origin:100% 0;">Factor de Recuperación:</div>
<div class="t v" style="top:321.24px;font-size:8.3px;font-weight:bold;letter-spacing:-0.052px;right:569.15px;">7.75</div>
<div class="t l" style="top:321.07px;font-size:8.5px;right:362.20px;transform:scaleX(0.882);transform-origin:100% 0;">Ratio de Sharpe:</div>
<div class="t v" style="top:321.24px;font-size:8.3px;font-weight:bold;letter-spacing:0.182px;right:290.82px;">3.66</div>
<div class="t l" style="top:321.07px;font-size:8.5px;right:87.40px;transform:scaleX(0.882);transform-origin:100% 0;">Z-Score:</div>
<div class="t v" style="top:321.24px;font-size:8.3px;font-weight:bold;letter-spacing:0.361px;right:15.54px;">-1.62 (89.48%)</div>
<div class="t l" style="top:334.91px;font-size:8.5px;right:643.00px;transform:scaleX(0.882);transform-origin:100% 0;">AHPR:</div>
<div class="t v" style="top:335.08px;font-size:8.3px;font-weight:bold;letter-spacing:0.307px;right:568.79px;">1.0027 (0.27%)</div>
<div class="t l" style="top:334.91px;font-size:8.5px;right:362.20px;transform:scaleX(0.882);transform-origin:100% 0;">LR Correlation:</div>
<div class="t v" style="top:335.08px;font-size:8.3px;font-weight:bold;letter-spacing:0.182px;right:290.82px;">0.97</div>
<div class="t l" style="top:334.91px;font-size:8.5px;right:87.40px;transform:scaleX(0.882);transform-origin:100% 0;">Resultado de OnTester:</div>
<div class="t v" style="top:335.08px;font-size:8.3px;font-weight:bold;letter-spacing:0px;right:15.90px;">0</div>
<div class="t l" style="top:348.75px;font-size:8.5px;right:643.00px;transform:scaleX(0.882);transform-origin:100% 0;">GHPR:</div>
<div class="t v" style="top:348.91px;font-size:8.3px;font-weight:bold;letter-spacing:0.307px;right:568.79px;">1.0025 (0.25%)</div>
<div class="t l" style="top:348.75px;font-size:8.5px;right:362.20px;transform:scaleX(0.882);transform-origin:100% 0;">LR Standard Error:</div>
<div class="t v" style="top:348.91px;font-size:8.3px;font-weight:bold;letter-spacing:0.183px;right:290.82px;">278.04</div>
<div class="t l" style="top:376.42px;font-size:8.5px;right:643.00px;transform:scaleX(0.882);transform-origin:100% 0;">Total de operaciones ejecutadas:</div>
<div class="t v" style="top:376.59px;font-size:8.3px;font-weight:bold;letter-spacing:0.176px;right:568.92px;">457</div>
<div class="t l" style="top:376.42px;font-size:8.5px;right:362.20px;transform:scaleX(0.882);transform-origin:100% 0;">Posiciones cortas (% rentables):</div>
<div class="t v" style="top:376.59px;font-size:8.3px;font-weight:bold;letter-spacing:0.397px;right:290.60px;">167 (44.31%)</div>
<div class="t l" style="top:376.42px;font-size:8.5px;right:87.40px;transform:scaleX(0.882);transform-origin:100% 0;">Posiciones largas (% rentables):</div>
<div class="t v" style="top:376.59px;font-size:8.3px;font-weight:bold;letter-spacing:0.379px;right:15.52px;">290 (48.62%)</div>
<div class="t l" style="top:390.26px;font-size:8.5px;right:643.00px;transform:scaleX(0.882);transform-origin:100% 0;">Total de transacciones:</div>
<div class="t v" style="top:390.43px;font-size:8.3px;font-weight:bold;letter-spacing:0.026px;right:569.07px;">914</div>
<div class="t l" style="top:390.26px;font-size:8.5px;right:362.20px;transform:scaleX(0.882);transform-origin:100% 0;">Posiciones rentables (% del total):</div>
<div class="t v" style="top:390.43px;font-size:8.3px;font-weight:bold;letter-spacing:0.415px;right:290.58px;">215 (47.05%)</div>
<div class="t l" style="top:390.26px;font-size:8.5px;right:87.40px;transform:scaleX(0.882);transform-origin:100% 0;">Posiciones no rentables (% del total):</div>
<div class="t v" style="top:390.43px;font-size:8.3px;font-weight:bold;letter-spacing:0.397px;right:15.50px;">242 (52.95%)</div>
<div class="t l" style="top:404.10px;font-size:8.5px;right:362.20px;transform:scaleX(0.882);transform-origin:100% 0;">La transacción rentable:</div>
<div class="t v" style="top:404.27px;font-size:8.3px;font-weight:bold;letter-spacing:0.083px;right:290.92px;">635.00</div>
<div class="t l" style="top:404.10px;font-size:8.5px;right:87.40px;transform:scaleX(0.882);transform-origin:100% 0;">La transacción no rentable:</div>
<div class="t v" style="top:404.27px;font-size:8.3px;font-weight:bold;letter-spacing:0.193px;right:15.71px;">-97.68</div>
<div class="t l" style="top:417.94px;font-size:8.5px;right:362.20px;transform:scaleX(0.882);transform-origin:100% 0;">Promedio de transacción rentable:</div>
<div class="t v" style="top:418.10px;font-size:8.3px;font-weight:bold;letter-spacing:0.032px;right:290.97px;">50.40</div>
<div class="t l" style="top:417.94px;font-size:8.5px;right:87.40px;transform:scaleX(0.882);transform-origin:100% 0;">Promedio de transacción no rentable:</div>
<div class="t v" style="top:418.10px;font-size:8.3px;font-weight:bold;letter-spacing:0.193px;right:15.71px;">-26.76</div>
<div class="t l" style="top:431.77px;font-size:8.5px;right:362.20px;transform:scaleX(0.882);transform-origin:100% 0;">El número máximo de ganancias consecutivas ($):</div>
<div class="t v" style="top:431.94px;font-size:8.3px;font-weight:bold;letter-spacing:0.218px;right:290.78px;">8 (253.97)</div>
<div class="t l" style="top:431.77px;font-size:8.5px;right:87.40px;transform:scaleX(0.882);transform-origin:100% 0;">El número máximo de pérdidas consecutivas ($):</div>
<div class="t v" style="top:431.94px;font-size:8.3px;font-weight:bold;letter-spacing:0.3px;right:15.60px;">9 (-218.43)</div>
<div class="t l" style="top:445.61px;font-size:8.5px;right:362.20px;transform:scaleX(0.882);transform-origin:100% 0;">El máximo de beneficio consecutivo (número de ganancias):</div>
<div class="t v" style="top:445.78px;font-size:8.3px;font-weight:bold;letter-spacing:0.196px;right:290.80px;">765.62 (2)</div>
<div class="t l" style="top:445.61px;font-size:8.5px;right:87.40px;transform:scaleX(0.882);transform-origin:100% 0;">El máximo de pérdidas consecutivas (número de pérdidas):</div>
<div class="t v" style="top:445.78px;font-size:8.3px;font-weight:bold;letter-spacing:0.316px;right:15.58px;">-253.11 (5)</div>
<div class="t l" style="top:459.45px;font-size:8.5px;right:362.20px;transform:scaleX(0.882);transform-origin:100% 0;">Promedio de ganancias consecutivas:</div>
<div class="t v" style="top:459.62px;font-size:8.3px;font-weight:bold;letter-spacing:0px;right:291.00px;">2</div>
<div class="t l" style="top:459.45px;font-size:8.5px;right:87.40px;transform:scaleX(0.882);transform-origin:100% 0;">Promedio de pérdidas consecutivas:</div>
<div class="t v" style="top:459.62px;font-size:8.3px;font-weight:bold;letter-spacing:0px;right:15.90px;">2</div>
<div class="t l" style="top:642.27px;font-size:6.3px;right:585.60px;transform:scaleX(0.945);transform-origin:100% 0;">Correlation (Profits,MFE):</div>
<div class="t" style="top:641.93px;font-size:6.7px;font-weight:bold;right:528.00px;">0.93</div>
<div class="t l" style="top:642.27px;font-size:6.3px;right:364.40px;transform:scaleX(0.945);transform-origin:100% 0;">Correlation (Profits,MAE):</div>
<div class="t" style="top:641.93px;font-size:6.7px;font-weight:bold;right:307.90px;">0.33</div>
<div class="t l" style="top:642.27px;font-size:6.3px;right:149.50px;transform:scaleX(0.895);transform-origin:100% 0;">Correlation (MFE,MAE):</div>
<div class="t" style="top:641.93px;font-size:6.7px;font-weight:bold;right:90.50px;">0.0775</div>
<div class="t l" style="top:891.17px;font-size:6.3px;right:585.10px;transform:scaleX(0.966);transform-origin:100% 0;">Tiempo mínimo para retener la posición:</div>
<div class="t" style="top:890.83px;font-size:6.7px;font-weight:bold;right:527.80px;">0:00:26</div>
<div class="t l" style="top:891.17px;font-size:6.3px;right:363.30px;transform:scaleX(0.966);transform-origin:100% 0;">Tiempo máximo para retener la posición:</div>
<div class="t" style="top:890.83px;font-size:6.7px;font-weight:bold;right:307.70px;">122:03:42</div>
<div class="t l" style="top:891.17px;font-size:6.3px;right:146.40px;transform:scaleX(0.966);transform-origin:100% 0;">Tiempo medio para retener la posición:</div>
<div class="t" style="top:890.83px;font-size:6.7px;font-weight:bold;right:90.40px;">8:17:20</div>
<div class="t l" style="top:491.50px;font-size:7.2px;left:84.40px;transform:scaleX(0.94);transform-origin:0 0;">Balance</div>
<div class="t" style="top:619.97px;font-size:7.0px;left:82.00px;">0</div>
<div class="t" style="top:619.97px;font-size:7.0px;right:664.31px;">21</div>
<div class="t" style="top:619.97px;font-size:7.0px;right:641.52px;">40</div>
<div class="t" style="top:619.97px;font-size:7.0px;right:618.73px;">59</div>
<div class="t" style="top:619.97px;font-size:7.0px;right:595.94px;">77</div>
<div class="t" style="top:619.97px;font-size:7.0px;right:573.15px;">96</div>
<div class="t" style="top:619.97px;font-size:7.0px;right:550.36px;">115</div>
<div class="t" style="top:619.97px;font-size:7.0px;right:527.57px;">134</div>
<div class="t" style="top:619.97px;font-size:7.0px;right:504.78px;">153</div>
<div class="t" style="top:619.97px;font-size:7.0px;right:481.99px;">172</div>
<div class="t" style="top:619.97px;font-size:7.0px;right:459.20px;">191</div>
<div class="t" style="top:619.97px;font-size:7.0px;right:436.41px;">210</div>
<div class="t" style="top:619.97px;font-size:7.0px;right:413.62px;">228</div>
<div class="t" style="top:619.97px;font-size:7.0px;right:390.83px;">247</div>
<div class="t" style="top:619.97px;font-size:7.0px;right:368.04px;">266</div>
<div class="t" style="top:619.97px;font-size:7.0px;right:345.25px;">285</div>
<div class="t" style="top:619.97px;font-size:7.0px;right:322.46px;">304</div>
<div class="t" style="top:619.97px;font-size:7.0px;right:299.67px;">323</div>
<div class="t" style="top:619.97px;font-size:7.0px;right:276.88px;">342</div>
<div class="t" style="top:619.97px;font-size:7.0px;right:254.09px;">361</div>
<div class="t" style="top:619.97px;font-size:7.0px;right:231.30px;">380</div>
<div class="t" style="top:619.97px;font-size:7.0px;right:208.51px;">398</div>
<div class="t" style="top:619.97px;font-size:7.0px;right:185.72px;">417</div>
<div class="t" style="top:619.97px;font-size:7.0px;right:162.93px;">436</div>
<div class="t" style="top:619.97px;font-size:7.0px;right:140.14px;">455</div>
<div class="t" style="top:614.97px;font-size:7.0px;letter-spacing:0.15px;left:635.40px;">1796</div>
<div class="t" style="top:592.07px;font-size:7.0px;letter-spacing:0.15px;left:635.40px;">2708</div>
<div class="t" style="top:569.17px;font-size:7.0px;letter-spacing:0.15px;left:635.40px;">3620</div>
<div class="t" style="top:546.27px;font-size:7.0px;letter-spacing:0.15px;left:635.40px;">4532</div>
<div class="t" style="top:523.37px;font-size:7.0px;letter-spacing:0.15px;left:635.40px;">5445</div>
<div class="t" style="top:500.47px;font-size:7.0px;letter-spacing:0.15px;left:635.40px;">6357</div>
<div class="t" style="top:657.40px;font-size:5.9px;color:#d0d0d0;right:614.80px;">700</div>
<div class="t" style="top:666.98px;font-size:5.9px;color:#d0d0d0;right:614.80px;">560</div>
<div class="t" style="top:676.56px;font-size:5.9px;color:#d0d0d0;right:614.80px;">420</div>
<div class="t" style="top:686.14px;font-size:5.9px;color:#d0d0d0;right:614.80px;">280</div>
<div class="t" style="top:695.72px;font-size:5.9px;color:#d0d0d0;right:614.80px;">140</div>
<div class="t" style="top:705.30px;font-size:5.9px;color:#d0d0d0;right:614.80px;">0</div>
<div class="t" style="top:714.88px;font-size:5.9px;color:#d0d0d0;right:614.80px;">-140</div>
<div class="t" style="top:724.46px;font-size:5.9px;color:#d0d0d0;right:614.80px;">-280</div>
<div class="t" style="top:734.04px;font-size:5.9px;color:#d0d0d0;right:614.80px;">-420</div>
<div class="t" style="top:743.62px;font-size:5.9px;color:#d0d0d0;right:614.80px;">-560</div>
<div class="t" style="top:753.20px;font-size:5.9px;color:#d0d0d0;right:614.80px;">-700</div>
<div class="t" style="top:759.30px;font-size:5.9px;color:#d0d0d0;left:158.90px;">0</div>
<div class="t" style="top:759.30px;font-size:5.9px;color:#d0d0d0;left:201.90px;">90</div>
<div class="t" style="top:759.30px;font-size:5.9px;color:#d0d0d0;left:244.90px;">180</div>
<div class="t" style="top:759.30px;font-size:5.9px;color:#d0d0d0;left:287.90px;">270</div>
<div class="t" style="top:759.30px;font-size:5.9px;color:#d0d0d0;left:330.90px;">360</div>
<div class="t" style="top:759.30px;font-size:5.9px;color:#d0d0d0;left:373.90px;">450</div>
<div class="t" style="top:759.30px;font-size:5.9px;color:#d0d0d0;left:416.90px;">540</div>
<div class="t" style="top:759.30px;font-size:5.9px;color:#d0d0d0;left:459.90px;">630</div>
<div class="t" style="top:759.30px;font-size:5.9px;color:#d0d0d0;left:502.90px;">720</div>
<div class="t" style="top:759.30px;font-size:5.9px;color:#d0d0d0;left:545.90px;">810</div>
<div class="t" style="top:759.30px;font-size:5.9px;color:#d0d0d0;left:588.90px;">900</div>
<div class="t" style="top:662.50px;font-size:5.9px;color:#c8c8c8;left:161.30px;">Profit</div>
<div class="t" style="top:747.50px;font-size:5.9px;color:#d0d0d0;right:162.00px;transform:scaleX(0.86);transform-origin:100% 0;">MFE</div>
<div class="t" style="top:766.60px;font-size:5.9px;color:#d0d0d0;right:614.80px;">700</div>
<div class="t" style="top:776.16px;font-size:5.9px;color:#d0d0d0;right:614.80px;">560</div>
<div class="t" style="top:785.72px;font-size:5.9px;color:#d0d0d0;right:614.80px;">420</div>
<div class="t" style="top:795.28px;font-size:5.9px;color:#d0d0d0;right:614.80px;">280</div>
<div class="t" style="top:804.84px;font-size:5.9px;color:#d0d0d0;right:614.80px;">140</div>
<div class="t" style="top:814.40px;font-size:5.9px;color:#d0d0d0;right:614.80px;">0</div>
<div class="t" style="top:823.96px;font-size:5.9px;color:#d0d0d0;right:614.80px;">-140</div>
<div class="t" style="top:833.52px;font-size:5.9px;color:#d0d0d0;right:614.80px;">-280</div>
<div class="t" style="top:843.08px;font-size:5.9px;color:#d0d0d0;right:614.80px;">-420</div>
<div class="t" style="top:852.64px;font-size:5.9px;color:#d0d0d0;right:614.80px;">-560</div>
<div class="t" style="top:862.20px;font-size:5.9px;color:#d0d0d0;right:614.80px;">-700</div>
<div class="t" style="top:868.10px;font-size:5.9px;color:#d0d0d0;left:158.80px;">-110</div>
<div class="t" style="top:868.10px;font-size:5.9px;color:#d0d0d0;left:201.80px;">-99</div>
<div class="t" style="top:868.10px;font-size:5.9px;color:#d0d0d0;left:244.80px;">-88</div>
<div class="t" style="top:868.10px;font-size:5.9px;color:#d0d0d0;left:287.80px;">-77</div>
<div class="t" style="top:868.10px;font-size:5.9px;color:#d0d0d0;left:330.80px;">-66</div>
<div class="t" style="top:868.10px;font-size:5.9px;color:#d0d0d0;left:373.80px;">-55</div>
<div class="t" style="top:868.10px;font-size:5.9px;color:#d0d0d0;left:416.80px;">-44</div>
<div class="t" style="top:868.10px;font-size:5.9px;color:#d0d0d0;left:459.80px;">-33</div>
<div class="t" style="top:868.10px;font-size:5.9px;color:#d0d0d0;left:502.80px;">-22</div>
<div class="t" style="top:868.10px;font-size:5.9px;color:#d0d0d0;left:545.80px;">-11</div>
<div class="t" style="top:868.10px;font-size:5.9px;color:#d0d0d0;left:588.80px;">0</div>
<div class="t" style="top:771.70px;font-size:5.9px;color:#c8c8c8;left:161.20px;">Profit</div>
<div class="t" style="top:856.80px;font-size:5.9px;color:#d0d0d0;right:162.00px;transform:scaleX(0.86);transform-origin:100% 0;">MAE</div>
<div class="t" style="top:906.90px;font-size:5.9px;color:#d0d0d0;right:614.80px;">700</div>
<div class="t" style="top:916.25px;font-size:5.9px;color:#d0d0d0;right:614.80px;">560</div>
<div class="t" style="top:925.60px;font-size:5.9px;color:#d0d0d0;right:614.80px;">420</div>
<div class="t" style="top:934.95px;font-size:5.9px;color:#d0d0d0;right:614.80px;">280</div>
<div class="t" style="top:944.30px;font-size:5.9px;color:#d0d0d0;right:614.80px;">140</div>
<div class="t" style="top:953.65px;font-size:5.9px;color:#d0d0d0;right:614.80px;">0</div>
<div class="t" style="top:963.00px;font-size:5.9px;color:#d0d0d0;right:614.80px;">-140</div>
<div class="t" style="top:972.35px;font-size:5.9px;color:#d0d0d0;right:614.80px;">-280</div>
<div class="t" style="top:981.70px;font-size:5.9px;color:#d0d0d0;right:614.80px;">-420</div>
<div class="t" style="top:991.05px;font-size:5.9px;color:#d0d0d0;right:614.80px;">-560</div>
<div class="t" style="top:1000.40px;font-size:5.9px;color:#d0d0d0;right:614.80px;">-700</div>
<div class="t" style="top:1007.10px;font-size:5.9px;color:#d0d0d0;left:158.60px;">0</div>
<div class="t" style="top:1007.10px;font-size:5.9px;color:#d0d0d0;left:201.60px;">24</div>
<div class="t" style="top:1007.10px;font-size:5.9px;color:#d0d0d0;left:244.60px;">48</div>
<div class="t" style="top:1007.10px;font-size:5.9px;color:#d0d0d0;left:287.60px;">72</div>
<div class="t" style="top:1007.10px;font-size:5.9px;color:#d0d0d0;left:330.60px;">96</div>
<div class="t" style="top:1007.10px;font-size:5.9px;color:#d0d0d0;left:373.60px;">120</div>
<div class="t" style="top:1007.10px;font-size:5.9px;color:#d0d0d0;left:416.60px;">144</div>
<div class="t" style="top:1007.10px;font-size:5.9px;color:#d0d0d0;left:459.60px;">168</div>
<div class="t" style="top:1007.10px;font-size:5.9px;color:#d0d0d0;left:502.60px;">192</div>
<div class="t" style="top:1007.10px;font-size:5.9px;color:#d0d0d0;left:545.60px;">216</div>
<div class="t" style="top:1007.10px;font-size:5.9px;color:#d0d0d0;left:588.60px;">240</div>
<div class="t" style="top:912.00px;font-size:5.9px;color:#c8c8c8;left:161.00px;">Profit</div>
<div class="t" style="top:995.00px;font-size:5.9px;color:#d0d0d0;right:162.00px;transform:scaleX(0.86);transform-origin:100% 0;">Time (hours)</div>
</div></body></html>
